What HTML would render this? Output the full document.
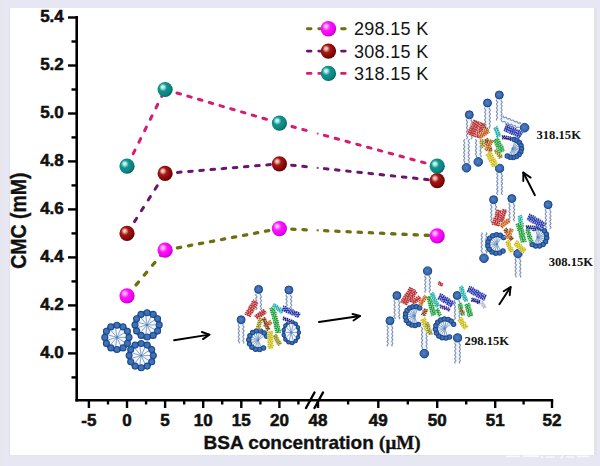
<!DOCTYPE html>
<html><head><meta charset="utf-8">
<style>
html,body{margin:0;padding:0;}
body{width:600px;height:466px;overflow:hidden;background:#e7e7f3;position:relative;}
#panel{position:absolute;left:10px;top:8px;width:584px;height:447px;background:#fff;box-shadow:3px 0 0 #e2e2e9,-1px 0 0 #e1e1ee,0 1px 0 #e3e3ee;}
#lstrip{position:absolute;left:0;top:0;width:2px;height:466px;background:#e6e6ec;}
svg{position:absolute;left:0;top:0;}
.tl{font-family:"Liberation Sans",sans-serif;font-weight:bold;font-size:17px;fill:#111;stroke:#111;stroke-width:0.55px;}
.at{font-family:"Liberation Sans",sans-serif;font-weight:bold;font-size:19px;fill:#111;stroke:#111;stroke-width:0.35px;}
.at.yt{font-size:19.5px;}
.ser{font-family:"Liberation Serif",serif;font-weight:bold;}
.lg{font-family:"Liberation Sans",sans-serif;font-size:18px;fill:#141414;letter-spacing:0.3px;}
.tk{font-family:"Liberation Serif",serif;font-weight:bold;font-size:12.6px;fill:#111;}
</style></head>
<body>
<div id="lstrip"></div><div id="panel"></div>
<svg width="600" height="466" viewBox="0 0 600 466">

<defs>
<radialGradient id="gm" cx="0.4" cy="0.4" r="0.62" fx="0.34" fy="0.33">
 <stop offset="0" stop-color="#ffe0ff"/><stop offset="0.18" stop-color="#ff9cff"/><stop offset="0.42" stop-color="#ff14ff"/><stop offset="0.8" stop-color="#ee00ee"/><stop offset="1" stop-color="#c000c8"/>
</radialGradient>
<radialGradient id="gr" cx="0.4" cy="0.4" r="0.62" fx="0.34" fy="0.33">
 <stop offset="0" stop-color="#fbe6d2"/><stop offset="0.16" stop-color="#eab0a0"/><stop offset="0.4" stop-color="#a41818"/><stop offset="0.8" stop-color="#860606"/><stop offset="1" stop-color="#5a0202"/>
</radialGradient>
<radialGradient id="gt" cx="0.4" cy="0.4" r="0.62" fx="0.34" fy="0.33">
 <stop offset="0" stop-color="#e4fffc"/><stop offset="0.16" stop-color="#a8ece6"/><stop offset="0.42" stop-color="#12928c"/><stop offset="0.8" stop-color="#0c8480"/><stop offset="1" stop-color="#065c60"/>
</radialGradient>
<radialGradient id="gb" cx="0.45" cy="0.45" r="0.6">
 <stop offset="0" stop-color="#4e80c4"/><stop offset="0.6" stop-color="#3a6ab2"/><stop offset="1" stop-color="#2a58a0"/>
</radialGradient>
</defs>

<ellipse cx="116.9" cy="337.4" rx="10.6" ry="10.6" fill="#f4f8fd"/>
<line x1="116.9" y1="337.4" x2="126.0" y2="337.4" stroke="#7898c4" stroke-width="0.9"/>
<line x1="116.9" y1="337.4" x2="124.5" y2="342.3" stroke="#7898c4" stroke-width="0.9"/>
<line x1="116.9" y1="337.4" x2="120.7" y2="345.6" stroke="#7898c4" stroke-width="0.9"/>
<line x1="116.9" y1="337.4" x2="115.6" y2="346.4" stroke="#7898c4" stroke-width="0.9"/>
<line x1="116.9" y1="337.4" x2="111.0" y2="344.2" stroke="#7898c4" stroke-width="0.9"/>
<line x1="116.9" y1="337.4" x2="108.2" y2="339.9" stroke="#7898c4" stroke-width="0.9"/>
<line x1="116.9" y1="337.4" x2="108.2" y2="334.9" stroke="#7898c4" stroke-width="0.9"/>
<line x1="116.9" y1="337.4" x2="111.0" y2="330.6" stroke="#7898c4" stroke-width="0.9"/>
<line x1="116.9" y1="337.4" x2="115.6" y2="328.4" stroke="#7898c4" stroke-width="0.9"/>
<line x1="116.9" y1="337.4" x2="120.7" y2="329.2" stroke="#7898c4" stroke-width="0.9"/>
<line x1="116.9" y1="337.4" x2="124.5" y2="332.5" stroke="#7898c4" stroke-width="0.9"/>
<circle cx="116.9" cy="337.4" r="1.1" fill="#4a78b8"/>
<ellipse cx="116.9" cy="337.4" rx="12.1" ry="12.1" fill="none" stroke="#24508f" stroke-width="4.1"/>
<circle cx="129.0" cy="337.4" r="3.0" fill="#4072b8" stroke="#1e4b8e" stroke-width="1.1"/>
<circle cx="127.4" cy="343.4" r="3.0" fill="#4072b8" stroke="#1e4b8e" stroke-width="1.1"/>
<circle cx="123.0" cy="347.9" r="3.0" fill="#4072b8" stroke="#1e4b8e" stroke-width="1.1"/>
<circle cx="116.9" cy="349.5" r="3.0" fill="#4072b8" stroke="#1e4b8e" stroke-width="1.1"/>
<circle cx="110.9" cy="347.9" r="3.0" fill="#4072b8" stroke="#1e4b8e" stroke-width="1.1"/>
<circle cx="106.4" cy="343.4" r="3.0" fill="#4072b8" stroke="#1e4b8e" stroke-width="1.1"/>
<circle cx="104.8" cy="337.4" r="3.0" fill="#4072b8" stroke="#1e4b8e" stroke-width="1.1"/>
<circle cx="106.4" cy="331.3" r="3.0" fill="#4072b8" stroke="#1e4b8e" stroke-width="1.1"/>
<circle cx="110.8" cy="326.9" r="3.0" fill="#4072b8" stroke="#1e4b8e" stroke-width="1.1"/>
<circle cx="116.9" cy="325.3" r="3.0" fill="#4072b8" stroke="#1e4b8e" stroke-width="1.1"/>
<circle cx="123.0" cy="326.9" r="3.0" fill="#4072b8" stroke="#1e4b8e" stroke-width="1.1"/>
<circle cx="127.4" cy="331.3" r="3.0" fill="#4072b8" stroke="#1e4b8e" stroke-width="1.1"/>
<ellipse cx="147.1" cy="324.9" rx="10.6" ry="10.6" fill="#f4f8fd"/>
<line x1="147.1" y1="324.9" x2="156.2" y2="324.9" stroke="#7898c4" stroke-width="0.9"/>
<line x1="147.1" y1="324.9" x2="154.7" y2="329.8" stroke="#7898c4" stroke-width="0.9"/>
<line x1="147.1" y1="324.9" x2="150.9" y2="333.1" stroke="#7898c4" stroke-width="0.9"/>
<line x1="147.1" y1="324.9" x2="145.8" y2="333.9" stroke="#7898c4" stroke-width="0.9"/>
<line x1="147.1" y1="324.9" x2="141.2" y2="331.7" stroke="#7898c4" stroke-width="0.9"/>
<line x1="147.1" y1="324.9" x2="138.4" y2="327.4" stroke="#7898c4" stroke-width="0.9"/>
<line x1="147.1" y1="324.9" x2="138.4" y2="322.4" stroke="#7898c4" stroke-width="0.9"/>
<line x1="147.1" y1="324.9" x2="141.2" y2="318.1" stroke="#7898c4" stroke-width="0.9"/>
<line x1="147.1" y1="324.9" x2="145.8" y2="315.9" stroke="#7898c4" stroke-width="0.9"/>
<line x1="147.1" y1="324.9" x2="150.9" y2="316.7" stroke="#7898c4" stroke-width="0.9"/>
<line x1="147.1" y1="324.9" x2="154.7" y2="320.0" stroke="#7898c4" stroke-width="0.9"/>
<circle cx="147.1" cy="324.9" r="1.1" fill="#4a78b8"/>
<ellipse cx="147.1" cy="324.9" rx="12.1" ry="12.1" fill="none" stroke="#24508f" stroke-width="4.1"/>
<circle cx="159.2" cy="324.9" r="3.0" fill="#4072b8" stroke="#1e4b8e" stroke-width="1.1"/>
<circle cx="157.6" cy="330.9" r="3.0" fill="#4072b8" stroke="#1e4b8e" stroke-width="1.1"/>
<circle cx="153.2" cy="335.4" r="3.0" fill="#4072b8" stroke="#1e4b8e" stroke-width="1.1"/>
<circle cx="147.1" cy="337.0" r="3.0" fill="#4072b8" stroke="#1e4b8e" stroke-width="1.1"/>
<circle cx="141.1" cy="335.4" r="3.0" fill="#4072b8" stroke="#1e4b8e" stroke-width="1.1"/>
<circle cx="136.6" cy="330.9" r="3.0" fill="#4072b8" stroke="#1e4b8e" stroke-width="1.1"/>
<circle cx="135.0" cy="324.9" r="3.0" fill="#4072b8" stroke="#1e4b8e" stroke-width="1.1"/>
<circle cx="136.6" cy="318.8" r="3.0" fill="#4072b8" stroke="#1e4b8e" stroke-width="1.1"/>
<circle cx="141.0" cy="314.4" r="3.0" fill="#4072b8" stroke="#1e4b8e" stroke-width="1.1"/>
<circle cx="147.1" cy="312.8" r="3.0" fill="#4072b8" stroke="#1e4b8e" stroke-width="1.1"/>
<circle cx="153.2" cy="314.4" r="3.0" fill="#4072b8" stroke="#1e4b8e" stroke-width="1.1"/>
<circle cx="157.6" cy="318.8" r="3.0" fill="#4072b8" stroke="#1e4b8e" stroke-width="1.1"/>
<ellipse cx="141.2" cy="355.6" rx="10.6" ry="10.6" fill="#f4f8fd"/>
<line x1="141.2" y1="355.6" x2="150.2" y2="355.6" stroke="#7898c4" stroke-width="0.9"/>
<line x1="141.2" y1="355.6" x2="148.8" y2="360.5" stroke="#7898c4" stroke-width="0.9"/>
<line x1="141.2" y1="355.6" x2="145.0" y2="363.8" stroke="#7898c4" stroke-width="0.9"/>
<line x1="141.2" y1="355.6" x2="139.9" y2="364.6" stroke="#7898c4" stroke-width="0.9"/>
<line x1="141.2" y1="355.6" x2="135.3" y2="362.4" stroke="#7898c4" stroke-width="0.9"/>
<line x1="141.2" y1="355.6" x2="132.5" y2="358.1" stroke="#7898c4" stroke-width="0.9"/>
<line x1="141.2" y1="355.6" x2="132.5" y2="353.1" stroke="#7898c4" stroke-width="0.9"/>
<line x1="141.2" y1="355.6" x2="135.3" y2="348.8" stroke="#7898c4" stroke-width="0.9"/>
<line x1="141.2" y1="355.6" x2="139.9" y2="346.6" stroke="#7898c4" stroke-width="0.9"/>
<line x1="141.2" y1="355.6" x2="145.0" y2="347.4" stroke="#7898c4" stroke-width="0.9"/>
<line x1="141.2" y1="355.6" x2="148.8" y2="350.7" stroke="#7898c4" stroke-width="0.9"/>
<circle cx="141.2" cy="355.6" r="1.1" fill="#4a78b8"/>
<ellipse cx="141.2" cy="355.6" rx="12.1" ry="12.1" fill="none" stroke="#24508f" stroke-width="4.1"/>
<circle cx="153.3" cy="355.6" r="3.0" fill="#4072b8" stroke="#1e4b8e" stroke-width="1.1"/>
<circle cx="151.7" cy="361.7" r="3.0" fill="#4072b8" stroke="#1e4b8e" stroke-width="1.1"/>
<circle cx="147.2" cy="366.1" r="3.0" fill="#4072b8" stroke="#1e4b8e" stroke-width="1.1"/>
<circle cx="141.2" cy="367.7" r="3.0" fill="#4072b8" stroke="#1e4b8e" stroke-width="1.1"/>
<circle cx="135.1" cy="366.1" r="3.0" fill="#4072b8" stroke="#1e4b8e" stroke-width="1.1"/>
<circle cx="130.7" cy="361.7" r="3.0" fill="#4072b8" stroke="#1e4b8e" stroke-width="1.1"/>
<circle cx="129.1" cy="355.6" r="3.0" fill="#4072b8" stroke="#1e4b8e" stroke-width="1.1"/>
<circle cx="130.7" cy="349.6" r="3.0" fill="#4072b8" stroke="#1e4b8e" stroke-width="1.1"/>
<circle cx="135.1" cy="345.1" r="3.0" fill="#4072b8" stroke="#1e4b8e" stroke-width="1.1"/>
<circle cx="141.2" cy="343.5" r="3.0" fill="#4072b8" stroke="#1e4b8e" stroke-width="1.1"/>
<circle cx="147.2" cy="345.1" r="3.0" fill="#4072b8" stroke="#1e4b8e" stroke-width="1.1"/>
<circle cx="151.7" cy="349.6" r="3.0" fill="#4072b8" stroke="#1e4b8e" stroke-width="1.1"/>
<line x1="174.1" y1="340.3" x2="209.4" y2="334.6" stroke="#000" stroke-width="1.9" stroke-linecap="round"/><polyline points="201.9,332 209.4,334.6 203,339.1" fill="none" stroke="#000" stroke-width="1.9" stroke-linecap="round" stroke-linejoin="round"/>
<line x1="258.6" y1="293.9" x2="258.6" y2="308.9" stroke="#f1f6fc" stroke-width="3.2"/>
<polyline points="260.9,293.9 260.3,294.7 260.6,295.5 261.3,296.3 261.4,297.1 260.7,297.9 260.3,298.7 260.8,299.5 261.4,300.3 261.3,301.1 260.5,301.9 260.4,302.7 261.0,303.5 261.5,304.3 261.1,305.1 260.4,305.9 260.5,306.7 261.2,307.5 261.5,308.3 260.9,309.1 260.3,309.9" fill="none" stroke="#7d8fb2" stroke-width="1.1"/>
<polyline points="256.3,293.9 255.7,294.7 256.0,295.5 256.7,296.3 256.8,297.1 256.1,297.9 255.7,298.7 256.2,299.5 256.8,300.3 256.7,301.1 255.9,301.9 255.8,302.7 256.4,303.5 256.9,304.3 256.5,305.1 255.8,305.9 255.9,306.7 256.6,307.5 256.9,308.3 256.3,309.1 255.7,309.9" fill="none" stroke="#7d8fb2" stroke-width="1.1"/>
<circle cx="258.6" cy="289.4" r="4" fill="url(#gb)" stroke="#1c4788" stroke-width="1.0"/>
<line x1="288.9" y1="294.5" x2="288.9" y2="311.5" stroke="#f1f6fc" stroke-width="3.2"/>
<polyline points="291.2,294.5 290.6,295.3 290.9,296.1 291.7,297.0 291.7,297.8 290.9,298.6 290.6,299.4 291.2,300.2 291.8,301.0 291.4,301.9 290.7,302.7 290.8,303.5 291.5,304.3 291.8,305.1 291.1,306.0 290.6,306.8 291.0,307.6 291.7,308.4 291.6,309.2 290.9,310.0 290.6,310.9 291.3,311.7 291.8,312.5" fill="none" stroke="#7d8fb2" stroke-width="1.1"/>
<polyline points="286.6,294.5 286.0,295.3 286.3,296.1 287.1,297.0 287.1,297.8 286.3,298.6 286.0,299.4 286.6,300.2 287.2,301.0 286.8,301.9 286.1,302.7 286.2,303.5 286.9,304.3 287.2,305.1 286.5,306.0 286.0,306.8 286.4,307.6 287.1,308.4 287.0,309.2 286.3,310.0 286.0,310.9 286.7,311.7 287.2,312.5" fill="none" stroke="#7d8fb2" stroke-width="1.1"/>
<circle cx="288.9" cy="290.0" r="4" fill="url(#gb)" stroke="#1c4788" stroke-width="1.0"/>
<line x1="241.1" y1="324.3" x2="241.1" y2="342.3" stroke="#f1f6fc" stroke-width="3.2"/>
<polyline points="243.4,324.3 242.8,325.1 243.2,326.0 243.9,326.8 243.8,327.6 243.1,328.4 242.8,329.3 243.5,330.1 244.0,330.9 243.6,331.7 242.9,332.6 243.0,333.4 243.8,334.2 243.9,335.0 243.2,335.9 242.8,336.7 243.3,337.5 244.0,338.3 243.7,339.2 243.0,340.0 242.9,340.8 243.6,341.6 244.0,342.5 243.4,343.3" fill="none" stroke="#7d8fb2" stroke-width="1.1"/>
<polyline points="238.8,324.3 238.2,325.1 238.6,326.0 239.3,326.8 239.2,327.6 238.5,328.4 238.2,329.3 238.9,330.1 239.4,330.9 239.0,331.7 238.3,332.6 238.4,333.4 239.2,334.2 239.3,335.0 238.6,335.9 238.2,336.7 238.7,337.5 239.4,338.3 239.1,339.2 238.4,340.0 238.3,340.8 239.0,341.6 239.4,342.5 238.8,343.3" fill="none" stroke="#7d8fb2" stroke-width="1.1"/>
<circle cx="241.1" cy="319.8" r="4" fill="url(#gb)" stroke="#1c4788" stroke-width="1.0"/>
<ellipse cx="258.2" cy="340.2" rx="7.9" ry="7.9" fill="#f4f8fd"/>
<line x1="258.2" y1="340.2" x2="260.9" y2="346.8" stroke="#7898c4" stroke-width="0.9"/>
<line x1="258.2" y1="340.2" x2="258.1" y2="347.3" stroke="#7898c4" stroke-width="0.9"/>
<line x1="258.2" y1="340.2" x2="255.3" y2="346.7" stroke="#7898c4" stroke-width="0.9"/>
<line x1="258.2" y1="340.2" x2="253.0" y2="345.0" stroke="#7898c4" stroke-width="0.9"/>
<line x1="258.2" y1="340.2" x2="251.5" y2="342.6" stroke="#7898c4" stroke-width="0.9"/>
<line x1="258.2" y1="340.2" x2="251.1" y2="339.7" stroke="#7898c4" stroke-width="0.9"/>
<line x1="258.2" y1="340.2" x2="251.9" y2="337.0" stroke="#7898c4" stroke-width="0.9"/>
<line x1="258.2" y1="340.2" x2="253.7" y2="334.7" stroke="#7898c4" stroke-width="0.9"/>
<line x1="258.2" y1="340.2" x2="256.2" y2="333.4" stroke="#7898c4" stroke-width="0.9"/>
<line x1="258.2" y1="340.2" x2="259.0" y2="333.2" stroke="#7898c4" stroke-width="0.9"/>
<line x1="258.2" y1="340.2" x2="261.8" y2="334.1" stroke="#7898c4" stroke-width="0.9"/>
<line x1="258.2" y1="340.2" x2="263.9" y2="336.0" stroke="#7898c4" stroke-width="0.9"/>
<circle cx="258.2" cy="340.2" r="1.1" fill="#4a78b8"/>
<path d="M263.5,348.0 A9.4,9.4 0 1 1 266.7,336.2" fill="none" stroke="#24508f" stroke-width="3.2"/>
<circle cx="263.5" cy="348.0" r="2.2" fill="#4072b8" stroke="#1e4b8e" stroke-width="1.1"/>
<circle cx="259.6" cy="349.5" r="2.2" fill="#4072b8" stroke="#1e4b8e" stroke-width="1.1"/>
<circle cx="255.5" cy="349.2" r="2.2" fill="#4072b8" stroke="#1e4b8e" stroke-width="1.1"/>
<circle cx="251.9" cy="347.2" r="2.2" fill="#4072b8" stroke="#1e4b8e" stroke-width="1.1"/>
<circle cx="249.5" cy="343.8" r="2.2" fill="#4072b8" stroke="#1e4b8e" stroke-width="1.1"/>
<circle cx="248.8" cy="339.7" r="2.2" fill="#4072b8" stroke="#1e4b8e" stroke-width="1.1"/>
<circle cx="249.9" cy="335.8" r="2.2" fill="#4072b8" stroke="#1e4b8e" stroke-width="1.1"/>
<circle cx="252.6" cy="332.6" r="2.2" fill="#4072b8" stroke="#1e4b8e" stroke-width="1.1"/>
<circle cx="256.4" cy="331.0" r="2.2" fill="#4072b8" stroke="#1e4b8e" stroke-width="1.1"/>
<circle cx="260.5" cy="331.1" r="2.2" fill="#4072b8" stroke="#1e4b8e" stroke-width="1.1"/>
<circle cx="264.2" cy="333.0" r="2.2" fill="#4072b8" stroke="#1e4b8e" stroke-width="1.1"/>
<circle cx="266.7" cy="336.2" r="2.2" fill="#4072b8" stroke="#1e4b8e" stroke-width="1.1"/>
<ellipse cx="291.2" cy="332.4" rx="6.2" ry="9.1" fill="#f4f8fd"/>
<line x1="291.2" y1="332.4" x2="297.1" y2="332.4" stroke="#7898c4" stroke-width="0.9"/>
<line x1="291.2" y1="332.4" x2="296.0" y2="337.2" stroke="#7898c4" stroke-width="0.9"/>
<line x1="291.2" y1="332.4" x2="293.0" y2="340.1" stroke="#7898c4" stroke-width="0.9"/>
<line x1="291.2" y1="332.4" x2="289.4" y2="340.1" stroke="#7898c4" stroke-width="0.9"/>
<line x1="291.2" y1="332.4" x2="286.4" y2="337.2" stroke="#7898c4" stroke-width="0.9"/>
<line x1="291.2" y1="332.4" x2="285.3" y2="332.4" stroke="#7898c4" stroke-width="0.9"/>
<line x1="291.2" y1="332.4" x2="286.4" y2="327.6" stroke="#7898c4" stroke-width="0.9"/>
<line x1="291.2" y1="332.4" x2="289.4" y2="324.7" stroke="#7898c4" stroke-width="0.9"/>
<line x1="291.2" y1="332.4" x2="293.0" y2="324.7" stroke="#7898c4" stroke-width="0.9"/>
<line x1="291.2" y1="332.4" x2="296.0" y2="327.6" stroke="#7898c4" stroke-width="0.9"/>
<circle cx="291.2" cy="332.4" r="1.1" fill="#4a78b8"/>
<ellipse cx="291.2" cy="332.4" rx="7.7" ry="10.6" fill="none" stroke="#24508f" stroke-width="2.6"/>
<circle cx="298.9" cy="332.4" r="1.7" fill="#4072b8" stroke="#1e4b8e" stroke-width="1.1"/>
<circle cx="298.0" cy="337.3" r="1.7" fill="#4072b8" stroke="#1e4b8e" stroke-width="1.1"/>
<circle cx="295.6" cy="341.1" r="1.7" fill="#4072b8" stroke="#1e4b8e" stroke-width="1.1"/>
<circle cx="292.1" cy="342.9" r="1.7" fill="#4072b8" stroke="#1e4b8e" stroke-width="1.1"/>
<circle cx="288.5" cy="342.3" r="1.7" fill="#4072b8" stroke="#1e4b8e" stroke-width="1.1"/>
<circle cx="285.4" cy="339.4" r="1.7" fill="#4072b8" stroke="#1e4b8e" stroke-width="1.1"/>
<circle cx="283.7" cy="334.9" r="1.7" fill="#4072b8" stroke="#1e4b8e" stroke-width="1.1"/>
<circle cx="283.7" cy="329.9" r="1.7" fill="#4072b8" stroke="#1e4b8e" stroke-width="1.1"/>
<circle cx="285.4" cy="325.4" r="1.7" fill="#4072b8" stroke="#1e4b8e" stroke-width="1.1"/>
<circle cx="288.5" cy="322.5" r="1.7" fill="#4072b8" stroke="#1e4b8e" stroke-width="1.1"/>
<circle cx="292.1" cy="321.9" r="1.7" fill="#4072b8" stroke="#1e4b8e" stroke-width="1.1"/>
<circle cx="295.6" cy="323.7" r="1.7" fill="#4072b8" stroke="#1e4b8e" stroke-width="1.1"/>
<circle cx="298.0" cy="327.5" r="1.7" fill="#4072b8" stroke="#1e4b8e" stroke-width="1.1"/>
<line x1="247.3" y1="315.7" x2="255.9" y2="301.2" stroke="#f2bcbc" stroke-width="6.8"/>
<polyline points="244.7,314.2 250.4,316.3 245.8,312.4 251.5,314.5 246.9,310.5 252.6,312.7 247.9,308.7 253.6,310.9 249.0,306.9 254.7,309.1 250.1,305.1 255.8,307.3 251.2,303.3 256.9,305.4 252.2,301.5 257.9,303.6 253.3,299.7" fill="none" stroke="#b0282e" stroke-width="1.2" stroke-linejoin="round" stroke-dasharray="1.6 0.7"/>
<line x1="255.9" y1="317.5" x2="265.3" y2="311.0" stroke="#f2bcbc" stroke-width="5.3"/>
<polyline points="254.6,315.6 258.0,318.8 256.3,314.5 259.7,317.6 258.0,313.3 261.5,316.4 259.7,312.1 263.2,315.2 261.5,310.9 264.9,314.0 263.2,309.7 266.6,312.9" fill="none" stroke="#b0282e" stroke-width="1.2" stroke-linejoin="round" stroke-dasharray="1.6 0.7"/>
<line x1="258.0" y1="329.0" x2="261.0" y2="318.0" stroke="#e8e4a8" stroke-width="4.8"/>
<polyline points="256.1,328.5 260.2,328.5 256.6,326.5 260.7,326.5 257.2,324.5 261.3,324.5 257.7,322.5 261.8,322.5 258.3,320.5 262.4,320.5 258.8,318.5 262.9,318.5" fill="none" stroke="#8e8a22" stroke-width="1.2" stroke-linejoin="round" stroke-dasharray="1.6 0.7"/>
<line x1="264.8" y1="326.8" x2="271.2" y2="321.5" stroke="#f6d0a8" stroke-width="4.8"/>
<polyline points="263.5,325.3 266.9,327.7 265.1,323.9 268.5,326.4 266.7,322.6 270.1,325.0 268.3,321.3 271.7,323.7 269.9,320.0" fill="none" stroke="#c05a1c" stroke-width="1.2" stroke-linejoin="round" stroke-dasharray="1.6 0.7"/>
<line x1="263.5" y1="318.0" x2="268.5" y2="330.0" stroke="#e8c8a8" stroke-width="4.3"/>
<polyline points="265.1,317.3 262.3,319.6 265.9,319.2 263.0,321.4 266.7,321.0 263.8,323.3 267.4,322.9 264.6,325.1 268.2,324.7 265.3,327.0 269.0,326.6 266.1,328.8 269.7,328.4 266.9,330.7" fill="none" stroke="#7a3a16" stroke-width="1.2" stroke-linejoin="round" stroke-dasharray="1.6 0.7"/>
<line x1="270.0" y1="331.3" x2="270.8" y2="348.6" stroke="#f6f0a0" stroke-width="5.8"/>
<polyline points="272.5,331.2 267.5,332.4 272.6,333.2 267.6,334.5 272.7,335.3 267.7,336.5 272.8,337.3 267.8,338.5 272.9,339.3 267.9,340.6 273.0,341.4 268.0,342.6 273.1,343.4 268.1,344.6 273.2,345.4 268.2,346.7 273.3,347.5 268.3,348.7" fill="none" stroke="#c8b81c" stroke-width="1.2" stroke-linejoin="round" stroke-dasharray="1.6 0.7"/>
<line x1="274.5" y1="335.0" x2="279.8" y2="344.8" stroke="#e8e4a8" stroke-width="4.8"/>
<polyline points="276.3,334.0 273.2,336.8 277.2,335.8 274.2,338.6 278.2,337.6 275.1,340.4 279.2,339.4 276.1,342.2 280.1,341.2 277.1,344.0 281.1,343.0 278.0,345.8" fill="none" stroke="#8e8a22" stroke-width="1.2" stroke-linejoin="round" stroke-dasharray="1.6 0.7"/>
<line x1="272.2" y1="307.2" x2="278.5" y2="332.9" stroke="#b8ecc0" stroke-width="5.8"/>
<polyline points="274.6,306.6 270.0,308.8 275.1,308.6 270.5,310.8 275.6,310.6 271.0,312.7 276.1,312.5 271.5,314.7 276.6,314.5 272.0,316.7 277.1,316.5 272.4,318.7 277.5,318.5 272.9,320.6 278.0,320.4 273.4,322.6 278.5,322.4 273.9,324.6 279.0,324.4 274.4,326.6 279.5,326.4 274.9,328.6 280.0,328.4 275.3,330.5 280.4,330.3 275.8,332.5 280.9,332.3" fill="none" stroke="#1e9a3a" stroke-width="1.2" stroke-linejoin="round" stroke-dasharray="1.6 0.7"/>
<line x1="273.0" y1="305.0" x2="283.0" y2="312.0" stroke="#bff2f0" stroke-width="4.8"/>
<polyline points="274.1,303.4 272.7,307.2 275.8,304.5 274.4,308.4 277.5,305.7 276.0,309.6 279.1,306.9 277.7,310.7 280.8,308.0 279.4,311.9 282.5,309.2 281.0,313.1 284.1,310.4" fill="none" stroke="#22aaa8" stroke-width="1.2" stroke-linejoin="round" stroke-dasharray="1.6 0.7"/>
<line x1="282.7" y1="307.9" x2="299.5" y2="315.6" stroke="#c4caf2" stroke-width="5.8"/>
<polyline points="283.7,305.6 282.6,310.6 285.6,306.5 284.5,311.5 287.5,307.3 286.3,312.3 289.3,308.2 288.2,313.2 291.2,309.0 290.1,314.0 293.1,309.9 291.9,314.9 294.9,310.8 293.8,315.7 296.8,311.6 295.7,316.6 298.7,312.5 297.5,317.4 300.5,313.3" fill="none" stroke="#2232a8" stroke-width="1.2" stroke-linejoin="round" stroke-dasharray="1.6 0.7"/>
<line x1="283.0" y1="318.0" x2="292.0" y2="322.0" stroke="#c0c4e8" stroke-width="3.8"/>
<polyline points="283.6,316.6 283.4,319.8 285.6,317.5 285.4,320.7 287.6,318.4 287.4,321.6 289.6,319.3 289.4,322.5 291.6,320.2 291.4,323.4" fill="none" stroke="#18207a" stroke-width="1.2" stroke-linejoin="round" stroke-dasharray="1.6 0.7"/>
<line x1="319" y1="322" x2="360" y2="316" stroke="#000" stroke-width="1.9" stroke-linecap="round"/><polyline points="352.5,314 360,316 353.5,320.5" fill="none" stroke="#000" stroke-width="1.9" stroke-linecap="round" stroke-linejoin="round"/>
<line x1="427.6" y1="275.6" x2="427.6" y2="291.6" stroke="#f1f6fc" stroke-width="3.2"/>
<polyline points="429.9,275.6 429.3,276.4 429.6,277.2 430.4,278.0 430.4,278.8 429.7,279.6 429.3,280.5 429.9,281.3 430.5,282.1 430.2,282.9 429.5,283.7 429.4,284.5 430.1,285.3 430.5,286.1 430.0,286.9 429.3,287.7 429.6,288.6 430.3,289.4 430.4,290.2 429.7,291.0 429.3,291.8 429.8,292.6" fill="none" stroke="#7d8fb2" stroke-width="1.1"/>
<polyline points="425.3,275.6 424.7,276.4 425.0,277.2 425.8,278.0 425.8,278.8 425.1,279.6 424.7,280.5 425.3,281.3 425.9,282.1 425.6,282.9 424.9,283.7 424.8,284.5 425.5,285.3 425.9,286.1 425.4,286.9 424.7,287.7 425.0,288.6 425.7,289.4 425.8,290.2 425.1,291.0 424.7,291.8 425.2,292.6" fill="none" stroke="#7d8fb2" stroke-width="1.1"/>
<circle cx="427.6" cy="271.0" r="4.1" fill="url(#gb)" stroke="#1c4788" stroke-width="1.0"/>
<line x1="396.9" y1="300.1" x2="396.9" y2="318.1" stroke="#f1f6fc" stroke-width="3.2"/>
<polyline points="399.2,300.1 398.6,300.9 399.0,301.8 399.7,302.6 399.6,303.4 398.9,304.2 398.6,305.1 399.3,305.9 399.8,306.7 399.4,307.5 398.7,308.4 398.8,309.2 399.6,310.0 399.7,310.8 399.0,311.7 398.6,312.5 399.1,313.3 399.8,314.1 399.5,315.0 398.8,315.8 398.7,316.6 399.4,317.4 399.8,318.3 399.2,319.1" fill="none" stroke="#7d8fb2" stroke-width="1.1"/>
<polyline points="394.6,300.1 394.0,300.9 394.4,301.8 395.1,302.6 395.0,303.4 394.3,304.2 394.0,305.1 394.7,305.9 395.2,306.7 394.8,307.5 394.1,308.4 394.2,309.2 395.0,310.0 395.1,310.8 394.4,311.7 394.0,312.5 394.5,313.3 395.2,314.1 394.9,315.0 394.2,315.8 394.1,316.6 394.8,317.4 395.2,318.3 394.6,319.1" fill="none" stroke="#7d8fb2" stroke-width="1.1"/>
<circle cx="396.9" cy="295.6" r="4" fill="url(#gb)" stroke="#1c4788" stroke-width="1.0"/>
<line x1="390.0" y1="325.3" x2="390.0" y2="345.3" stroke="#f1f6fc" stroke-width="3.2"/>
<polyline points="392.3,325.3 391.7,326.1 392.0,326.9 392.8,327.7 392.8,328.5 392.1,329.3 391.7,330.1 392.3,331.0 392.9,331.8 392.6,332.6 391.9,333.4 391.8,334.2 392.5,335.0 392.9,335.8 392.4,336.6 391.7,337.4 391.9,338.2 392.7,339.0 392.8,339.8 392.2,340.6 391.7,341.5 392.2,342.3 392.8,343.1 392.7,343.9 391.9,344.7 391.7,345.5 392.4,346.3" fill="none" stroke="#7d8fb2" stroke-width="1.1"/>
<polyline points="387.7,325.3 387.1,326.1 387.4,326.9 388.2,327.7 388.2,328.5 387.5,329.3 387.1,330.1 387.7,331.0 388.3,331.8 388.0,332.6 387.3,333.4 387.2,334.2 387.9,335.0 388.3,335.8 387.8,336.6 387.1,337.4 387.3,338.2 388.1,339.0 388.2,339.8 387.6,340.6 387.1,341.5 387.6,342.3 388.2,343.1 388.1,343.9 387.3,344.7 387.1,345.5 387.8,346.3" fill="none" stroke="#7d8fb2" stroke-width="1.1"/>
<circle cx="390.0" cy="320.8" r="4" fill="url(#gb)" stroke="#1c4788" stroke-width="1.0"/>
<line x1="457.2" y1="300.0" x2="457.2" y2="319.0" stroke="#f1f6fc" stroke-width="3.2"/>
<polyline points="459.5,300.0 458.9,300.8 459.2,301.6 459.9,302.4 460.0,303.2 459.3,304.0 458.9,304.8 459.4,305.6 460.0,306.4 459.9,307.2 459.1,308.0 459.0,308.8 459.6,309.6 460.1,310.4 459.7,311.2 459.0,312.0 459.1,312.8 459.8,313.6 460.1,314.4 459.5,315.2 458.9,316.0 459.2,316.8 459.9,317.6 460.0,318.4 459.3,319.2 458.9,320.0" fill="none" stroke="#7d8fb2" stroke-width="1.1"/>
<polyline points="454.9,300.0 454.3,300.8 454.6,301.6 455.3,302.4 455.4,303.2 454.7,304.0 454.3,304.8 454.8,305.6 455.4,306.4 455.3,307.2 454.5,308.0 454.4,308.8 455.0,309.6 455.5,310.4 455.1,311.2 454.4,312.0 454.5,312.8 455.2,313.6 455.5,314.4 454.9,315.2 454.3,316.0 454.6,316.8 455.3,317.6 455.4,318.4 454.7,319.2 454.3,320.0" fill="none" stroke="#7d8fb2" stroke-width="1.1"/>
<circle cx="457.2" cy="295.5" r="4" fill="url(#gb)" stroke="#1c4788" stroke-width="1.0"/>
<line x1="457.6" y1="342.5" x2="457.6" y2="362.5" stroke="#f1f6fc" stroke-width="3.2"/>
<polyline points="459.9,342.5 459.3,343.3 459.6,344.1 460.4,344.9 460.4,345.7 459.7,346.5 459.3,347.3 459.9,348.2 460.5,349.0 460.2,349.8 459.5,350.6 459.4,351.4 460.1,352.2 460.5,353.0 460.0,353.8 459.3,354.6 459.5,355.4 460.3,356.2 460.4,357.0 459.8,357.8 459.3,358.7 459.8,359.5 460.4,360.3 460.3,361.1 459.5,361.9 459.3,362.7 460.0,363.5" fill="none" stroke="#7d8fb2" stroke-width="1.1"/>
<polyline points="455.3,342.5 454.7,343.3 455.0,344.1 455.8,344.9 455.8,345.7 455.1,346.5 454.7,347.3 455.3,348.2 455.9,349.0 455.6,349.8 454.9,350.6 454.8,351.4 455.5,352.2 455.9,353.0 455.4,353.8 454.7,354.6 454.9,355.4 455.7,356.2 455.8,357.0 455.2,357.8 454.7,358.7 455.2,359.5 455.8,360.3 455.7,361.1 454.9,361.9 454.7,362.7 455.4,363.5" fill="none" stroke="#7d8fb2" stroke-width="1.1"/>
<circle cx="457.6" cy="337.9" r="4.1" fill="url(#gb)" stroke="#1c4788" stroke-width="1.0"/>
<line x1="424.3" y1="348.8" x2="424.3" y2="327.8" stroke="#f1f6fc" stroke-width="3.2"/>
<polyline points="422.0,348.8 422.6,348.0 422.3,347.2 421.5,346.4 421.5,345.5 422.3,344.7 422.6,343.9 422.0,343.1 421.4,342.3 421.7,341.5 422.5,340.7 422.5,339.8 421.7,339.0 421.4,338.2 422.0,337.4 422.6,336.6 422.3,335.8 421.5,334.9 421.5,334.1 422.3,333.3 422.6,332.5 422.0,331.7 421.4,330.9 421.8,330.1 422.5,329.2 422.5,328.4 421.7,327.6 421.4,326.8" fill="none" stroke="#7d8fb2" stroke-width="1.1"/>
<polyline points="426.6,348.8 427.2,348.0 426.9,347.2 426.1,346.4 426.1,345.5 426.9,344.7 427.2,343.9 426.6,343.1 426.0,342.3 426.3,341.5 427.1,340.7 427.1,339.8 426.3,339.0 426.0,338.2 426.6,337.4 427.2,336.6 426.9,335.8 426.1,334.9 426.1,334.1 426.9,333.3 427.2,332.5 426.6,331.7 426.0,330.9 426.4,330.1 427.1,329.2 427.1,328.4 426.3,327.6 426.0,326.8" fill="none" stroke="#7d8fb2" stroke-width="1.1"/>
<circle cx="424.3" cy="353.6" r="4.3" fill="url(#gb)" stroke="#1c4788" stroke-width="1.0"/>
<ellipse cx="414.7" cy="316.0" rx="7.9" ry="7.9" fill="#f4f8fd"/>
<line x1="414.7" y1="316.0" x2="416.4" y2="322.8" stroke="#7898c4" stroke-width="0.9"/>
<line x1="414.7" y1="316.0" x2="414.0" y2="323.0" stroke="#7898c4" stroke-width="0.9"/>
<line x1="414.7" y1="316.0" x2="411.7" y2="322.4" stroke="#7898c4" stroke-width="0.9"/>
<line x1="414.7" y1="316.0" x2="409.7" y2="321.0" stroke="#7898c4" stroke-width="0.9"/>
<line x1="414.7" y1="316.0" x2="408.3" y2="319.0" stroke="#7898c4" stroke-width="0.9"/>
<line x1="414.7" y1="316.0" x2="407.7" y2="316.7" stroke="#7898c4" stroke-width="0.9"/>
<line x1="414.7" y1="316.0" x2="407.9" y2="314.3" stroke="#7898c4" stroke-width="0.9"/>
<line x1="414.7" y1="316.0" x2="408.8" y2="312.1" stroke="#7898c4" stroke-width="0.9"/>
<line x1="414.7" y1="316.0" x2="410.5" y2="310.4" stroke="#7898c4" stroke-width="0.9"/>
<line x1="414.7" y1="316.0" x2="412.6" y2="309.3" stroke="#7898c4" stroke-width="0.9"/>
<line x1="414.7" y1="316.0" x2="415.0" y2="309.0" stroke="#7898c4" stroke-width="0.9"/>
<line x1="414.7" y1="316.0" x2="417.4" y2="309.5" stroke="#7898c4" stroke-width="0.9"/>
<circle cx="414.7" cy="316.0" r="1.1" fill="#4a78b8"/>
<path d="M418.5,324.6 A9.4,9.4 0 1 1 419.7,308.0" fill="none" stroke="#24508f" stroke-width="3.3"/>
<circle cx="418.5" cy="324.6" r="2.2" fill="#4072b8" stroke="#1e4b8e" stroke-width="1.1"/>
<circle cx="415.1" cy="325.4" r="2.2" fill="#4072b8" stroke="#1e4b8e" stroke-width="1.1"/>
<circle cx="411.7" cy="324.9" r="2.2" fill="#4072b8" stroke="#1e4b8e" stroke-width="1.1"/>
<circle cx="408.6" cy="323.2" r="2.2" fill="#4072b8" stroke="#1e4b8e" stroke-width="1.1"/>
<circle cx="406.4" cy="320.4" r="2.2" fill="#4072b8" stroke="#1e4b8e" stroke-width="1.1"/>
<circle cx="405.4" cy="317.1" r="2.2" fill="#4072b8" stroke="#1e4b8e" stroke-width="1.1"/>
<circle cx="405.6" cy="313.6" r="2.2" fill="#4072b8" stroke="#1e4b8e" stroke-width="1.1"/>
<circle cx="407.1" cy="310.5" r="2.2" fill="#4072b8" stroke="#1e4b8e" stroke-width="1.1"/>
<circle cx="409.7" cy="308.1" r="2.2" fill="#4072b8" stroke="#1e4b8e" stroke-width="1.1"/>
<circle cx="412.9" cy="306.8" r="2.2" fill="#4072b8" stroke="#1e4b8e" stroke-width="1.1"/>
<circle cx="416.4" cy="306.8" r="2.2" fill="#4072b8" stroke="#1e4b8e" stroke-width="1.1"/>
<circle cx="419.7" cy="308.0" r="2.2" fill="#4072b8" stroke="#1e4b8e" stroke-width="1.1"/>
<ellipse cx="445.0" cy="328.5" rx="8.1" ry="8.1" fill="#f4f8fd"/>
<line x1="445.0" y1="328.5" x2="447.1" y2="335.4" stroke="#7898c4" stroke-width="0.9"/>
<line x1="445.0" y1="328.5" x2="444.2" y2="335.7" stroke="#7898c4" stroke-width="0.9"/>
<line x1="445.0" y1="328.5" x2="441.5" y2="334.9" stroke="#7898c4" stroke-width="0.9"/>
<line x1="445.0" y1="328.5" x2="439.3" y2="333.0" stroke="#7898c4" stroke-width="0.9"/>
<line x1="445.0" y1="328.5" x2="438.0" y2="330.5" stroke="#7898c4" stroke-width="0.9"/>
<line x1="445.0" y1="328.5" x2="437.8" y2="327.7" stroke="#7898c4" stroke-width="0.9"/>
<line x1="445.0" y1="328.5" x2="438.7" y2="324.9" stroke="#7898c4" stroke-width="0.9"/>
<line x1="445.0" y1="328.5" x2="440.5" y2="322.8" stroke="#7898c4" stroke-width="0.9"/>
<line x1="445.0" y1="328.5" x2="443.1" y2="321.5" stroke="#7898c4" stroke-width="0.9"/>
<line x1="445.0" y1="328.5" x2="445.9" y2="321.3" stroke="#7898c4" stroke-width="0.9"/>
<line x1="445.0" y1="328.5" x2="448.6" y2="322.2" stroke="#7898c4" stroke-width="0.9"/>
<line x1="445.0" y1="328.5" x2="450.8" y2="324.1" stroke="#7898c4" stroke-width="0.9"/>
<circle cx="445.0" cy="328.5" r="1.1" fill="#4a78b8"/>
<path d="M449.5,337.0 A9.6,9.6 0 1 1 453.6,324.3" fill="none" stroke="#24508f" stroke-width="3.3"/>
<circle cx="449.5" cy="337.0" r="2.2" fill="#4072b8" stroke="#1e4b8e" stroke-width="1.1"/>
<circle cx="445.9" cy="338.1" r="2.2" fill="#4072b8" stroke="#1e4b8e" stroke-width="1.1"/>
<circle cx="442.1" cy="337.7" r="2.2" fill="#4072b8" stroke="#1e4b8e" stroke-width="1.1"/>
<circle cx="438.8" cy="335.9" r="2.2" fill="#4072b8" stroke="#1e4b8e" stroke-width="1.1"/>
<circle cx="436.5" cy="332.9" r="2.2" fill="#4072b8" stroke="#1e4b8e" stroke-width="1.1"/>
<circle cx="435.4" cy="329.3" r="2.2" fill="#4072b8" stroke="#1e4b8e" stroke-width="1.1"/>
<circle cx="435.9" cy="325.5" r="2.2" fill="#4072b8" stroke="#1e4b8e" stroke-width="1.1"/>
<circle cx="437.7" cy="322.2" r="2.2" fill="#4072b8" stroke="#1e4b8e" stroke-width="1.1"/>
<circle cx="440.7" cy="319.9" r="2.2" fill="#4072b8" stroke="#1e4b8e" stroke-width="1.1"/>
<circle cx="444.3" cy="318.9" r="2.2" fill="#4072b8" stroke="#1e4b8e" stroke-width="1.1"/>
<circle cx="448.1" cy="319.4" r="2.2" fill="#4072b8" stroke="#1e4b8e" stroke-width="1.1"/>
<circle cx="451.3" cy="321.3" r="2.2" fill="#4072b8" stroke="#1e4b8e" stroke-width="1.1"/>
<circle cx="453.6" cy="324.3" r="2.2" fill="#4072b8" stroke="#1e4b8e" stroke-width="1.1"/>
<line x1="403.4" y1="303.6" x2="413.0" y2="288.6" stroke="#f2bcbc" stroke-width="7.8"/>
<polyline points="400.5,301.7 406.9,304.6 401.6,299.9 408.0,302.8 402.7,298.2 409.2,301.1 403.8,296.4 410.3,299.3 405.0,294.7 411.4,297.5 406.1,292.9 412.6,295.8 407.2,291.1 413.7,294.0 408.4,289.4 414.8,292.3 409.5,287.6 415.9,290.5" fill="none" stroke="#b0282e" stroke-width="1.2" stroke-linejoin="round" stroke-dasharray="1.6 0.7"/>
<line x1="409.5" y1="301.5" x2="415.5" y2="291.0" stroke="#f2bcbc" stroke-width="4.8"/>
<polyline points="407.8,300.5 411.7,301.6 408.8,298.8 412.7,299.9 409.8,297.0 413.7,298.1 410.8,295.3 414.7,296.4 411.8,293.5 415.7,294.6 412.8,291.8 416.7,292.9 413.8,290.0" fill="none" stroke="#b0282e" stroke-width="1.2" stroke-linejoin="round" stroke-dasharray="1.6 0.7"/>
<line x1="412.0" y1="302.5" x2="420.5" y2="297.5" stroke="#f2bcbc" stroke-width="5.3"/>
<polyline points="410.9,300.6 414.1,303.9 412.7,299.4 416.0,302.8 414.6,298.3 417.9,301.7 416.5,297.2 419.8,300.6 418.4,296.1 421.6,299.4" fill="none" stroke="#b0282e" stroke-width="1.2" stroke-linejoin="round" stroke-dasharray="1.6 0.7"/>
<line x1="438.5" y1="282.5" x2="442.5" y2="285.5" stroke="#f2bcbc" stroke-width="3.8"/>
<polyline points="439.4,281.3 438.4,284.3 441.0,282.5 440.0,285.5 442.6,283.7 441.6,286.7" fill="none" stroke="#b0282e" stroke-width="1.2" stroke-linejoin="round" stroke-dasharray="1.6 0.7"/>
<line x1="420.0" y1="305.0" x2="426.0" y2="296.0" stroke="#f6d0a8" stroke-width="4.3"/>
<polyline points="418.5,304.0 422.1,305.1 419.7,302.2 423.3,303.3 420.9,300.4 424.5,301.5 422.1,298.6 425.7,299.7 423.3,296.8 426.9,297.9 424.5,295.0" fill="none" stroke="#c05a1c" stroke-width="1.2" stroke-linejoin="round" stroke-dasharray="1.6 0.7"/>
<line x1="426.0" y1="309.0" x2="422.9" y2="315.4" stroke="#e8c8a8" stroke-width="4.8"/>
<polyline points="427.8,309.9 423.8,309.0 426.9,311.7 422.9,310.9 426.0,313.5 422.0,312.7 425.1,315.4 421.1,314.5" fill="none" stroke="#7a3a16" stroke-width="1.2" stroke-linejoin="round" stroke-dasharray="1.6 0.7"/>
<line x1="422.9" y1="318.6" x2="428.2" y2="331.0" stroke="#f6f0a0" stroke-width="5.8"/>
<polyline points="425.2,317.6 421.0,320.5 426.0,319.5 421.8,322.4 426.8,321.4 422.6,324.4 427.6,323.3 423.5,326.3 428.5,325.2 424.3,328.2 429.3,327.2 425.1,330.1 430.1,329.1 425.9,332.0" fill="none" stroke="#c8b81c" stroke-width="1.2" stroke-linejoin="round" stroke-dasharray="1.6 0.7"/>
<line x1="426.5" y1="322.9" x2="430.8" y2="334.7" stroke="#e8e4a8" stroke-width="4.8"/>
<polyline points="428.4,322.2 425.0,324.6 429.1,324.2 425.7,326.5 429.8,326.1 426.4,328.5 430.5,328.1 427.1,330.5 431.2,330.1 427.8,332.4 432.0,332.0 428.6,334.4 432.7,334.0" fill="none" stroke="#8e8a22" stroke-width="1.2" stroke-linejoin="round" stroke-dasharray="1.6 0.7"/>
<line x1="429.3" y1="296.0" x2="433.6" y2="315.4" stroke="#b8ecc0" stroke-width="5.8"/>
<polyline points="431.7,295.5 427.1,297.6 432.2,297.5 427.5,299.6 432.6,299.5 428.0,301.6 433.1,301.6 428.4,303.7 433.6,303.6 428.9,305.7 434.0,305.7 429.3,307.8 434.5,307.7 429.8,309.8 434.9,309.8 430.3,311.9 435.4,311.8 430.7,313.9 435.8,313.8 431.2,315.9" fill="none" stroke="#1e9a3a" stroke-width="1.2" stroke-linejoin="round" stroke-dasharray="1.6 0.7"/>
<line x1="431.5" y1="292.9" x2="437.9" y2="306.8" stroke="#bff2f0" stroke-width="4.8"/>
<polyline points="433.3,292.1 430.1,294.7 434.2,293.9 431.0,296.5 435.0,295.8 431.8,298.4 435.9,297.6 432.7,300.2 436.7,299.5 433.5,302.1 437.6,301.3 434.4,303.9 438.4,303.2 435.2,305.8 439.3,305.0 436.1,307.6" fill="none" stroke="#22aaa8" stroke-width="1.2" stroke-linejoin="round" stroke-dasharray="1.6 0.7"/>
<line x1="439.0" y1="296.0" x2="452.9" y2="304.7" stroke="#c4caf2" stroke-width="6.8"/>
<polyline points="440.6,293.5 438.3,299.1 442.3,294.5 440.0,300.2 444.1,295.6 441.8,301.3 445.8,296.7 443.5,302.3 447.5,297.8 445.2,303.4 449.3,298.9 447.0,304.5 451.0,300.0 448.7,305.6 452.8,301.1 450.4,306.7 454.5,302.2" fill="none" stroke="#2232a8" stroke-width="1.2" stroke-linejoin="round" stroke-dasharray="1.6 0.7"/>
<line x1="440.0" y1="306.0" x2="450.0" y2="310.0" stroke="#d4c4ee" stroke-width="3.8"/>
<polyline points="440.6,304.6 440.4,307.8 442.6,305.4 442.4,308.6 444.6,306.2 444.4,309.4 446.6,307.0 446.4,310.2 448.6,307.8 448.4,311.0 450.6,308.6" fill="none" stroke="#4a2490" stroke-width="1.2" stroke-linejoin="round" stroke-dasharray="1.6 0.7"/>
<line x1="436.8" y1="309.0" x2="440.0" y2="316.0" stroke="#b8ecc0" stroke-width="4.3"/>
<polyline points="438.4,308.3 435.7,310.7 439.3,310.3 436.6,312.7 440.2,312.3 437.5,314.7 441.1,314.3 438.4,316.7" fill="none" stroke="#1e9a3a" stroke-width="1.2" stroke-linejoin="round" stroke-dasharray="1.6 0.7"/>
<line x1="460.7" y1="286.4" x2="466.1" y2="301.5" stroke="#bff2f0" stroke-width="4.8"/>
<polyline points="462.6,285.7 459.2,288.0 463.3,287.6 459.8,289.9 463.9,289.5 460.5,291.8 464.6,291.4 461.2,293.7 465.3,293.3 461.9,295.6 466.0,295.2 462.5,297.5 466.6,297.1 463.2,299.3 467.3,298.9 463.9,301.2 468.0,300.8" fill="none" stroke="#22aaa8" stroke-width="1.2" stroke-linejoin="round" stroke-dasharray="1.6 0.7"/>
<line x1="468.2" y1="288.6" x2="485.4" y2="298.2" stroke="#c4caf2" stroke-width="6.8"/>
<polyline points="469.7,286.0 467.6,291.7 471.5,287.0 469.5,292.7 473.3,288.0 471.3,293.7 475.1,289.0 473.1,294.8 476.9,290.0 474.9,295.8 478.7,291.0 476.7,296.8 480.5,292.0 478.5,297.8 482.3,293.1 480.3,298.8 484.1,294.1 482.1,299.8 486.0,295.1 483.9,300.8" fill="none" stroke="#2232a8" stroke-width="1.2" stroke-linejoin="round" stroke-dasharray="1.6 0.7"/>
<line x1="471.5" y1="299.3" x2="480.0" y2="302.5" stroke="#c0c4e8" stroke-width="4.3"/>
<polyline points="472.1,297.7 471.8,301.3 474.0,298.4 473.7,302.0 475.9,299.1 475.6,302.7 477.8,299.8 477.5,303.4 479.7,300.5 479.4,304.1" fill="none" stroke="#18207a" stroke-width="1.2" stroke-linejoin="round" stroke-dasharray="1.6 0.7"/>
<line x1="459.7" y1="303.6" x2="462.9" y2="315.4" stroke="#b8ecc0" stroke-width="4.8"/>
<polyline points="461.6,303.1 458.0,305.1 462.2,305.0 458.6,307.1 462.7,307.0 459.1,309.0 463.2,309.0 459.6,311.0 463.8,310.9 460.2,313.0 464.3,312.9 460.7,314.9 464.8,314.9" fill="none" stroke="#1e9a3a" stroke-width="1.2" stroke-linejoin="round" stroke-dasharray="1.6 0.7"/>
<line x1="467.2" y1="303.6" x2="470.4" y2="316.5" stroke="#b8ecc0" stroke-width="5.8"/>
<polyline points="469.6,303.0 465.0,305.2 470.1,305.0 465.5,307.2 470.6,307.0 466.0,309.2 471.1,309.0 466.5,311.1 471.6,310.9 467.0,313.1 472.1,312.9 467.5,315.1 472.6,314.9 468.0,317.1" fill="none" stroke="#1e9a3a" stroke-width="1.2" stroke-linejoin="round" stroke-dasharray="1.6 0.7"/>
<line x1="460.5" y1="309.5" x2="463.5" y2="313.0" stroke="#e8c8a8" stroke-width="3.8"/>
<polyline points="461.6,308.5 460.1,311.4 463.1,310.3 461.6,313.1 464.6,312.0" fill="none" stroke="#7a3a16" stroke-width="1.2" stroke-linejoin="round" stroke-dasharray="1.6 0.7"/>
<line x1="459.7" y1="318.6" x2="466.1" y2="328.3" stroke="#f6f0a0" stroke-width="5.8"/>
<polyline points="461.8,317.2 458.2,320.9 463.0,319.0 459.4,322.6 464.1,320.8 460.5,324.4 465.3,322.5 461.7,326.1 466.4,324.3 462.8,327.9 467.6,326.0 464.0,329.7" fill="none" stroke="#c8b81c" stroke-width="1.2" stroke-linejoin="round" stroke-dasharray="1.6 0.7"/>
<line x1="481.5" y1="302.0" x2="485.0" y2="308.0" stroke="#e4e4ec" stroke-width="3.8"/>
<polyline points="482.8,301.2 480.8,303.8 484.0,303.2 482.0,305.8 485.1,305.2 483.1,307.8 486.3,307.2" fill="none" stroke="#b8b8c8" stroke-width="1.2" stroke-linejoin="round" stroke-dasharray="1.6 0.7"/>
<line x1="499.4" y1="304.2" x2="510.6" y2="287" stroke="#000" stroke-width="1.9" stroke-linecap="round"/><polyline points="503.7,291.3 510.6,287 509.7,295.2" fill="none" stroke="#000" stroke-width="1.9" stroke-linecap="round" stroke-linejoin="round"/>
<text x="464.6" y="344.6" class="tk">298.15K</text>
<line x1="493.6" y1="204.2" x2="493.6" y2="222.2" stroke="#f1f6fc" stroke-width="3.2"/>
<polyline points="495.9,204.2 495.3,205.0 495.7,205.9 496.4,206.7 496.3,207.5 495.6,208.3 495.3,209.2 496.0,210.0 496.5,210.8 496.1,211.6 495.4,212.5 495.5,213.3 496.3,214.1 496.4,214.9 495.7,215.8 495.3,216.6 495.8,217.4 496.5,218.2 496.2,219.1 495.5,219.9 495.4,220.7 496.1,221.5 496.5,222.4 495.9,223.2" fill="none" stroke="#7d8fb2" stroke-width="1.1"/>
<polyline points="491.3,204.2 490.7,205.0 491.1,205.9 491.8,206.7 491.7,207.5 491.0,208.3 490.7,209.2 491.4,210.0 491.9,210.8 491.5,211.6 490.8,212.5 490.9,213.3 491.7,214.1 491.8,214.9 491.1,215.8 490.7,216.6 491.2,217.4 491.9,218.2 491.6,219.1 490.9,219.9 490.8,220.7 491.5,221.5 491.9,222.4 491.3,223.2" fill="none" stroke="#7d8fb2" stroke-width="1.1"/>
<circle cx="493.6" cy="199.7" r="4" fill="url(#gb)" stroke="#1c4788" stroke-width="1.0"/>
<line x1="511.8" y1="203.1" x2="511.8" y2="220.1" stroke="#f1f6fc" stroke-width="3.2"/>
<polyline points="514.1,203.1 513.5,203.9 513.8,204.7 514.6,205.6 514.6,206.4 513.8,207.2 513.5,208.0 514.1,208.8 514.7,209.6 514.3,210.5 513.6,211.3 513.7,212.1 514.4,212.9 514.7,213.7 514.0,214.6 513.5,215.4 513.9,216.2 514.6,217.0 514.5,217.8 513.8,218.6 513.5,219.5 514.2,220.3 514.7,221.1" fill="none" stroke="#7d8fb2" stroke-width="1.1"/>
<polyline points="509.5,203.1 508.9,203.9 509.2,204.7 510.0,205.6 510.0,206.4 509.2,207.2 508.9,208.0 509.5,208.8 510.1,209.6 509.7,210.5 509.0,211.3 509.1,212.1 509.8,212.9 510.1,213.7 509.4,214.6 508.9,215.4 509.3,216.2 510.0,217.0 509.9,217.8 509.2,218.6 508.9,219.5 509.6,220.3 510.1,221.1" fill="none" stroke="#7d8fb2" stroke-width="1.1"/>
<circle cx="511.8" cy="198.6" r="4" fill="url(#gb)" stroke="#1c4788" stroke-width="1.0"/>
<line x1="548.1" y1="209.2" x2="548.1" y2="228.2" stroke="#f1f6fc" stroke-width="3.2"/>
<polyline points="550.4,209.2 549.8,210.0 550.1,210.8 550.8,211.6 550.9,212.4 550.2,213.2 549.8,214.0 550.3,214.8 550.9,215.6 550.8,216.4 550.0,217.2 549.9,218.0 550.5,218.8 551.0,219.6 550.6,220.4 549.9,221.2 550.0,222.0 550.7,222.8 551.0,223.6 550.4,224.4 549.8,225.2 550.1,226.0 550.8,226.8 550.9,227.6 550.2,228.4 549.8,229.2" fill="none" stroke="#7d8fb2" stroke-width="1.1"/>
<polyline points="545.8,209.2 545.2,210.0 545.5,210.8 546.2,211.6 546.3,212.4 545.6,213.2 545.2,214.0 545.7,214.8 546.3,215.6 546.2,216.4 545.4,217.2 545.3,218.0 545.9,218.8 546.4,219.6 546.0,220.4 545.3,221.2 545.4,222.0 546.1,222.8 546.4,223.6 545.8,224.4 545.2,225.2 545.5,226.0 546.2,226.8 546.3,227.6 545.6,228.4 545.2,229.2" fill="none" stroke="#7d8fb2" stroke-width="1.1"/>
<circle cx="548.1" cy="204.7" r="4" fill="url(#gb)" stroke="#1c4788" stroke-width="1.0"/>
<line x1="484.0" y1="253.5" x2="484.0" y2="233.5" stroke="#f1f6fc" stroke-width="3.2"/>
<polyline points="481.7,253.5 482.3,252.7 482.0,251.9 481.2,251.1 481.2,250.3 481.9,249.5 482.3,248.7 481.7,247.8 481.1,247.0 481.4,246.2 482.1,245.4 482.2,244.6 481.5,243.8 481.1,243.0 481.6,242.2 482.3,241.4 482.1,240.6 481.3,239.8 481.2,239.0 481.8,238.2 482.3,237.3 481.8,236.5 481.2,235.7 481.3,234.9 482.1,234.1 482.3,233.3 481.6,232.5" fill="none" stroke="#7d8fb2" stroke-width="1.1"/>
<polyline points="486.3,253.5 486.9,252.7 486.6,251.9 485.8,251.1 485.8,250.3 486.5,249.5 486.9,248.7 486.3,247.8 485.7,247.0 486.0,246.2 486.7,245.4 486.8,244.6 486.1,243.8 485.7,243.0 486.2,242.2 486.9,241.4 486.7,240.6 485.9,239.8 485.8,239.0 486.4,238.2 486.9,237.3 486.4,236.5 485.8,235.7 485.9,234.9 486.7,234.1 486.9,233.3 486.2,232.5" fill="none" stroke="#7d8fb2" stroke-width="1.1"/>
<circle cx="484.0" cy="258.3" r="4.3" fill="url(#gb)" stroke="#1c4788" stroke-width="1.0"/>
<line x1="518.0" y1="258.4" x2="518.0" y2="276.4" stroke="#f1f6fc" stroke-width="3.2"/>
<polyline points="520.3,258.4 519.7,259.2 520.1,260.1 520.8,260.9 520.7,261.7 520.0,262.5 519.7,263.4 520.4,264.2 520.9,265.0 520.5,265.8 519.8,266.7 519.9,267.5 520.7,268.3 520.8,269.1 520.1,270.0 519.7,270.8 520.2,271.6 520.9,272.4 520.6,273.3 519.9,274.1 519.8,274.9 520.5,275.7 520.9,276.6 520.3,277.4" fill="none" stroke="#7d8fb2" stroke-width="1.1"/>
<polyline points="515.7,258.4 515.1,259.2 515.5,260.1 516.2,260.9 516.1,261.7 515.4,262.5 515.1,263.4 515.8,264.2 516.3,265.0 515.9,265.8 515.2,266.7 515.3,267.5 516.1,268.3 516.2,269.1 515.5,270.0 515.1,270.8 515.6,271.6 516.3,272.4 516.0,273.3 515.3,274.1 515.2,274.9 515.9,275.7 516.3,276.6 515.7,277.4" fill="none" stroke="#7d8fb2" stroke-width="1.1"/>
<circle cx="518.0" cy="253.7" r="4.2" fill="url(#gb)" stroke="#1c4788" stroke-width="1.0"/>
<ellipse cx="497.0" cy="244.0" rx="7.8" ry="7.8" fill="#f4f8fd"/>
<line x1="497.0" y1="244.0" x2="500.4" y2="250.1" stroke="#7898c4" stroke-width="0.9"/>
<line x1="497.0" y1="244.0" x2="497.8" y2="250.9" stroke="#7898c4" stroke-width="0.9"/>
<line x1="497.0" y1="244.0" x2="495.2" y2="250.7" stroke="#7898c4" stroke-width="0.9"/>
<line x1="497.0" y1="244.0" x2="492.8" y2="249.5" stroke="#7898c4" stroke-width="0.9"/>
<line x1="497.0" y1="244.0" x2="491.0" y2="247.5" stroke="#7898c4" stroke-width="0.9"/>
<line x1="497.0" y1="244.0" x2="490.1" y2="245.0" stroke="#7898c4" stroke-width="0.9"/>
<line x1="497.0" y1="244.0" x2="490.2" y2="242.4" stroke="#7898c4" stroke-width="0.9"/>
<line x1="497.0" y1="244.0" x2="491.4" y2="240.0" stroke="#7898c4" stroke-width="0.9"/>
<line x1="497.0" y1="244.0" x2="493.3" y2="238.1" stroke="#7898c4" stroke-width="0.9"/>
<line x1="497.0" y1="244.0" x2="495.8" y2="237.2" stroke="#7898c4" stroke-width="0.9"/>
<line x1="497.0" y1="244.0" x2="498.4" y2="237.2" stroke="#7898c4" stroke-width="0.9"/>
<line x1="497.0" y1="244.0" x2="500.9" y2="238.2" stroke="#7898c4" stroke-width="0.9"/>
<circle cx="497.0" cy="244.0" r="1.1" fill="#4a78b8"/>
<path d="M503.0,251.1 A9.3,9.3 0 1 1 503.6,237.4" fill="none" stroke="#24508f" stroke-width="3.3"/>
<circle cx="503.0" cy="251.1" r="2.2" fill="#4072b8" stroke="#1e4b8e" stroke-width="1.1"/>
<circle cx="499.5" cy="252.9" r="2.2" fill="#4072b8" stroke="#1e4b8e" stroke-width="1.1"/>
<circle cx="495.7" cy="253.2" r="2.2" fill="#4072b8" stroke="#1e4b8e" stroke-width="1.1"/>
<circle cx="492.0" cy="251.9" r="2.2" fill="#4072b8" stroke="#1e4b8e" stroke-width="1.1"/>
<circle cx="489.3" cy="249.2" r="2.2" fill="#4072b8" stroke="#1e4b8e" stroke-width="1.1"/>
<circle cx="487.8" cy="245.5" r="2.2" fill="#4072b8" stroke="#1e4b8e" stroke-width="1.1"/>
<circle cx="488.0" cy="241.7" r="2.2" fill="#4072b8" stroke="#1e4b8e" stroke-width="1.1"/>
<circle cx="489.7" cy="238.2" r="2.2" fill="#4072b8" stroke="#1e4b8e" stroke-width="1.1"/>
<circle cx="492.7" cy="235.7" r="2.2" fill="#4072b8" stroke="#1e4b8e" stroke-width="1.1"/>
<circle cx="496.5" cy="234.7" r="2.2" fill="#4072b8" stroke="#1e4b8e" stroke-width="1.1"/>
<circle cx="500.3" cy="235.3" r="2.2" fill="#4072b8" stroke="#1e4b8e" stroke-width="1.1"/>
<circle cx="503.6" cy="237.4" r="2.2" fill="#4072b8" stroke="#1e4b8e" stroke-width="1.1"/>
<ellipse cx="537.5" cy="237.0" rx="7.8" ry="7.8" fill="#f4f8fd"/>
<line x1="537.5" y1="237.0" x2="536.0" y2="230.2" stroke="#7898c4" stroke-width="0.9"/>
<line x1="537.5" y1="237.0" x2="538.4" y2="230.1" stroke="#7898c4" stroke-width="0.9"/>
<line x1="537.5" y1="237.0" x2="540.7" y2="230.8" stroke="#7898c4" stroke-width="0.9"/>
<line x1="537.5" y1="237.0" x2="542.6" y2="232.3" stroke="#7898c4" stroke-width="0.9"/>
<line x1="537.5" y1="237.0" x2="543.9" y2="234.3" stroke="#7898c4" stroke-width="0.9"/>
<line x1="537.5" y1="237.0" x2="544.4" y2="236.6" stroke="#7898c4" stroke-width="0.9"/>
<line x1="537.5" y1="237.0" x2="544.2" y2="239.0" stroke="#7898c4" stroke-width="0.9"/>
<line x1="537.5" y1="237.0" x2="543.1" y2="241.1" stroke="#7898c4" stroke-width="0.9"/>
<line x1="537.5" y1="237.0" x2="541.4" y2="242.8" stroke="#7898c4" stroke-width="0.9"/>
<line x1="537.5" y1="237.0" x2="539.2" y2="243.7" stroke="#7898c4" stroke-width="0.9"/>
<line x1="537.5" y1="237.0" x2="536.8" y2="243.9" stroke="#7898c4" stroke-width="0.9"/>
<line x1="537.5" y1="237.0" x2="534.5" y2="243.3" stroke="#7898c4" stroke-width="0.9"/>
<circle cx="537.5" cy="237.0" r="1.1" fill="#4a78b8"/>
<path d="M534.0,228.4 A9.3,9.3 0 1 1 532.2,244.6" fill="none" stroke="#24508f" stroke-width="3.3"/>
<circle cx="534.0" cy="228.4" r="2.2" fill="#4072b8" stroke="#1e4b8e" stroke-width="1.1"/>
<circle cx="537.8" cy="227.7" r="2.2" fill="#4072b8" stroke="#1e4b8e" stroke-width="1.1"/>
<circle cx="541.5" cy="228.6" r="2.2" fill="#4072b8" stroke="#1e4b8e" stroke-width="1.1"/>
<circle cx="544.5" cy="230.9" r="2.2" fill="#4072b8" stroke="#1e4b8e" stroke-width="1.1"/>
<circle cx="546.4" cy="234.2" r="2.2" fill="#4072b8" stroke="#1e4b8e" stroke-width="1.1"/>
<circle cx="546.7" cy="238.1" r="2.2" fill="#4072b8" stroke="#1e4b8e" stroke-width="1.1"/>
<circle cx="545.5" cy="241.7" r="2.2" fill="#4072b8" stroke="#1e4b8e" stroke-width="1.1"/>
<circle cx="543.0" cy="244.5" r="2.2" fill="#4072b8" stroke="#1e4b8e" stroke-width="1.1"/>
<circle cx="539.5" cy="246.1" r="2.2" fill="#4072b8" stroke="#1e4b8e" stroke-width="1.1"/>
<circle cx="535.7" cy="246.1" r="2.2" fill="#4072b8" stroke="#1e4b8e" stroke-width="1.1"/>
<circle cx="532.2" cy="244.6" r="2.2" fill="#4072b8" stroke="#1e4b8e" stroke-width="1.1"/>
<line x1="495.2" y1="225.4" x2="500.5" y2="210.4" stroke="#f2bcbc" stroke-width="7.8"/>
<polyline points="491.9,224.2 498.9,225.6 492.6,222.2 499.6,223.6 493.3,220.2 500.3,221.6 494.0,218.2 501.0,219.6 494.7,216.2 501.7,217.6 495.4,214.2 502.4,215.6 496.1,212.2 503.1,213.6 496.8,210.2 503.8,211.6" fill="none" stroke="#b0282e" stroke-width="1.2" stroke-linejoin="round" stroke-dasharray="1.6 0.7"/>
<line x1="500.5" y1="222.0" x2="505.0" y2="209.5" stroke="#f2bcbc" stroke-width="5.3"/>
<polyline points="498.4,221.2 503.0,221.8 499.1,219.3 503.7,219.9 499.8,217.4 504.3,218.0 500.5,215.5 505.0,216.0 501.2,213.5 505.7,214.1 501.8,211.6 506.4,212.2 502.5,209.7 507.1,210.3" fill="none" stroke="#b0282e" stroke-width="1.2" stroke-linejoin="round" stroke-dasharray="1.6 0.7"/>
<line x1="500.5" y1="226.5" x2="509.1" y2="220.0" stroke="#f6d0a8" stroke-width="5.3"/>
<polyline points="499.1,224.7 502.7,227.6 500.9,223.4 504.4,226.3 502.6,222.1 506.2,225.0 504.3,220.8 507.9,223.7 506.0,219.5 509.6,222.4 507.7,218.2" fill="none" stroke="#c05a1c" stroke-width="1.2" stroke-linejoin="round" stroke-dasharray="1.6 0.7"/>
<line x1="505.0" y1="229.0" x2="512.0" y2="240.0" stroke="#e8c8a8" stroke-width="4.8"/>
<polyline points="506.7,227.9 503.9,230.9 507.8,229.6 504.9,232.6 508.8,231.3 506.0,234.3 509.9,233.0 507.1,236.0 511.0,234.7 508.2,237.7 512.1,236.4 509.2,239.4 513.1,238.1 510.3,241.1" fill="none" stroke="#7a3a16" stroke-width="1.2" stroke-linejoin="round" stroke-dasharray="1.6 0.7"/>
<line x1="512.0" y1="229.0" x2="506.0" y2="238.0" stroke="#f6d0a8" stroke-width="4.3"/>
<polyline points="513.5,230.0 509.9,228.9 512.3,231.8 508.7,230.7 511.1,233.6 507.5,232.5 509.9,235.4 506.3,234.3 508.7,237.2 505.1,236.1 507.5,239.0" fill="none" stroke="#c05a1c" stroke-width="1.2" stroke-linejoin="round" stroke-dasharray="1.6 0.7"/>
<line x1="515.3" y1="242.3" x2="524.7" y2="251.7" stroke="#f6f0a0" stroke-width="5.8"/>
<polyline points="517.1,240.5 514.3,244.8 518.5,242.0 515.7,246.2 520.0,243.4 517.1,247.7 521.4,244.9 518.6,249.1 522.9,246.3 520.0,250.6 524.3,247.8 521.5,252.0 525.7,249.2 522.9,253.5" fill="none" stroke="#c8b81c" stroke-width="1.2" stroke-linejoin="round" stroke-dasharray="1.6 0.7"/>
<line x1="507.0" y1="241.0" x2="512.0" y2="252.0" stroke="#f6f0a0" stroke-width="4.8"/>
<polyline points="508.8,240.2 505.6,242.7 509.7,242.0 506.4,244.6 510.5,243.8 507.3,246.4 511.3,245.7 508.1,248.2 512.2,247.5 508.9,250.1 513.0,249.3 509.8,251.9 513.8,251.2" fill="none" stroke="#c8b81c" stroke-width="1.2" stroke-linejoin="round" stroke-dasharray="1.6 0.7"/>
<line x1="519.7" y1="215.4" x2="521.8" y2="227.2" stroke="#bff2f0" stroke-width="4.8"/>
<polyline points="521.7,215.0 517.9,216.8 522.1,217.2 518.3,219.0 522.4,219.3 518.7,221.1 522.8,221.5 519.1,223.3 523.2,223.6 519.4,225.4 523.6,225.8 519.8,227.6" fill="none" stroke="#22aaa8" stroke-width="1.2" stroke-linejoin="round" stroke-dasharray="1.6 0.7"/>
<line x1="518.6" y1="222.9" x2="524.0" y2="242.2" stroke="#b8ecc0" stroke-width="6.3"/>
<polyline points="521.2,222.2 516.2,224.6 521.8,224.1 516.8,226.5 522.3,226.0 517.3,228.5 522.9,227.9 517.8,230.4 523.4,229.9 518.4,232.3 523.9,231.8 518.9,234.3 524.5,233.7 519.5,236.2 525.0,235.7 520.0,238.1 525.6,237.6 520.5,240.0 526.1,239.5 521.1,242.0 526.6,241.5" fill="none" stroke="#1e9a3a" stroke-width="1.2" stroke-linejoin="round" stroke-dasharray="1.6 0.7"/>
<line x1="527.3" y1="229.0" x2="531.3" y2="242.3" stroke="#b8ecc0" stroke-width="4.8"/>
<polyline points="529.2,228.4 525.7,230.6 529.8,230.5 526.3,232.6 530.4,232.5 526.9,234.7 531.1,234.6 527.5,236.7 531.7,236.6 528.2,238.8 532.3,238.7 528.8,240.8 532.9,240.7 529.4,242.9" fill="none" stroke="#1e9a3a" stroke-width="1.2" stroke-linejoin="round" stroke-dasharray="1.6 0.7"/>
<line x1="528.2" y1="216.5" x2="544.3" y2="226.1" stroke="#c4caf2" stroke-width="7.3"/>
<polyline points="529.9,213.7 527.4,219.8 531.7,214.8 529.2,220.9 533.4,215.8 531.0,222.0 535.2,216.9 532.8,223.0 537.0,218.0 534.6,224.1 538.8,219.0 536.4,225.2 540.6,220.1 538.2,226.2 542.4,221.2 540.0,227.3 544.2,222.2 541.7,228.4 546.0,223.3" fill="none" stroke="#2232a8" stroke-width="1.2" stroke-linejoin="round" stroke-dasharray="1.6 0.7"/>
<line x1="526.0" y1="227.2" x2="537.9" y2="228.3" stroke="#c0c4e8" stroke-width="4.3"/>
<polyline points="526.2,225.5 526.9,229.0 528.3,225.7 529.1,229.2 530.5,225.9 531.2,229.4 532.7,226.1 533.4,229.6 534.8,226.3 535.6,229.8 537.0,226.5 537.7,230.0" fill="none" stroke="#18207a" stroke-width="1.2" stroke-linejoin="round" stroke-dasharray="1.6 0.7"/>
<line x1="534.9" y1="195.2" x2="523.3" y2="172.5" stroke="#000" stroke-width="1.9" stroke-linecap="round"/><polyline points="523.3,181 523.3,172.5 530.6,177.6" fill="none" stroke="#000" stroke-width="1.9" stroke-linecap="round" stroke-linejoin="round"/>
<text x="548.7" y="265.9" class="tk">308.15K</text>
<line x1="499.3" y1="99.5" x2="499.3" y2="119.5" stroke="#f1f6fc" stroke-width="3.2"/>
<polyline points="501.6,99.5 501.0,100.3 501.3,101.1 502.1,101.9 502.1,102.7 501.4,103.5 501.0,104.3 501.6,105.2 502.2,106.0 501.9,106.8 501.2,107.6 501.1,108.4 501.8,109.2 502.2,110.0 501.7,110.8 501.0,111.6 501.2,112.4 502.0,113.2 502.1,114.0 501.5,114.8 501.0,115.7 501.5,116.5 502.1,117.3 502.0,118.1 501.2,118.9 501.0,119.7 501.7,120.5" fill="none" stroke="#7d8fb2" stroke-width="1.1"/>
<polyline points="497.0,99.5 496.4,100.3 496.7,101.1 497.5,101.9 497.5,102.7 496.8,103.5 496.4,104.3 497.0,105.2 497.6,106.0 497.3,106.8 496.6,107.6 496.5,108.4 497.2,109.2 497.6,110.0 497.1,110.8 496.4,111.6 496.6,112.4 497.4,113.2 497.5,114.0 496.9,114.8 496.4,115.7 496.9,116.5 497.5,117.3 497.4,118.1 496.6,118.9 496.4,119.7 497.1,120.5" fill="none" stroke="#7d8fb2" stroke-width="1.1"/>
<circle cx="499.3" cy="95.0" r="4" fill="url(#gb)" stroke="#1c4788" stroke-width="1.0"/>
<line x1="487.5" y1="107.5" x2="487.5" y2="127.5" stroke="#f1f6fc" stroke-width="3.2"/>
<polyline points="489.8,107.5 489.2,108.3 489.5,109.1 490.3,109.9 490.3,110.7 489.6,111.5 489.2,112.3 489.8,113.2 490.4,114.0 490.1,114.8 489.4,115.6 489.3,116.4 490.0,117.2 490.4,118.0 489.9,118.8 489.2,119.6 489.4,120.4 490.2,121.2 490.3,122.0 489.7,122.8 489.2,123.7 489.7,124.5 490.3,125.3 490.2,126.1 489.4,126.9 489.2,127.7 489.9,128.5" fill="none" stroke="#7d8fb2" stroke-width="1.1"/>
<polyline points="485.2,107.5 484.6,108.3 484.9,109.1 485.7,109.9 485.7,110.7 485.0,111.5 484.6,112.3 485.2,113.2 485.8,114.0 485.5,114.8 484.8,115.6 484.7,116.4 485.4,117.2 485.8,118.0 485.3,118.8 484.6,119.6 484.8,120.4 485.6,121.2 485.7,122.0 485.1,122.8 484.6,123.7 485.1,124.5 485.7,125.3 485.6,126.1 484.8,126.9 484.6,127.7 485.3,128.5" fill="none" stroke="#7d8fb2" stroke-width="1.1"/>
<circle cx="487.5" cy="103.0" r="4" fill="url(#gb)" stroke="#1c4788" stroke-width="1.0"/>
<line x1="469.3" y1="119.3" x2="469.3" y2="138.3" stroke="#f1f6fc" stroke-width="3.2"/>
<polyline points="471.6,119.3 471.0,120.1 471.3,120.9 472.0,121.7 472.1,122.5 471.4,123.3 471.0,124.1 471.5,124.9 472.1,125.7 472.0,126.5 471.2,127.3 471.1,128.1 471.7,128.9 472.2,129.7 471.8,130.5 471.1,131.3 471.2,132.1 471.9,132.9 472.2,133.7 471.6,134.5 471.0,135.3 471.3,136.1 472.0,136.9 472.1,137.7 471.4,138.5 471.0,139.3" fill="none" stroke="#7d8fb2" stroke-width="1.1"/>
<polyline points="467.0,119.3 466.4,120.1 466.7,120.9 467.4,121.7 467.5,122.5 466.8,123.3 466.4,124.1 466.9,124.9 467.5,125.7 467.4,126.5 466.6,127.3 466.5,128.1 467.1,128.9 467.6,129.7 467.2,130.5 466.5,131.3 466.6,132.1 467.3,132.9 467.6,133.7 467.0,134.5 466.4,135.3 466.7,136.1 467.4,136.9 467.5,137.7 466.8,138.5 466.4,139.3" fill="none" stroke="#7d8fb2" stroke-width="1.1"/>
<circle cx="469.3" cy="114.8" r="4" fill="url(#gb)" stroke="#1c4788" stroke-width="1.0"/>
<line x1="520.1" y1="125.9" x2="502.5" y2="118.8" stroke="#f1f6fc" stroke-width="3.2"/>
<polyline points="519.3,128.0 518.8,127.2 517.9,127.2 516.9,127.5 516.1,127.3 515.7,126.4 515.1,125.7 514.1,125.8 513.1,126.1 512.5,125.7 512.0,124.7 511.3,124.2 510.3,124.5 509.4,124.7 508.8,124.0 508.3,123.1 507.6,122.8 506.6,123.2 505.7,123.2 505.2,122.3 504.7,121.5 503.8,121.5 502.8,121.9 502.0,121.6 501.6,120.7 501.0,120.0" fill="none" stroke="#7d8fb2" stroke-width="1.1"/>
<polyline points="521.0,123.8 520.5,122.9 519.6,122.9 518.6,123.3 517.9,123.0 517.4,122.1 516.8,121.4 515.9,121.6 514.9,121.9 514.2,121.4 513.7,120.4 513.1,120.0 512.1,120.3 511.1,120.4 510.6,119.8 510.1,118.8 509.3,118.6 508.3,118.9 507.4,118.9 506.9,118.1 506.4,117.2 505.5,117.2 504.5,117.6 503.8,117.3 503.3,116.4 502.7,115.7" fill="none" stroke="#7d8fb2" stroke-width="1.1"/>
<circle cx="524.6" cy="127.7" r="4.3" fill="url(#gb)" stroke="#1c4788" stroke-width="1.0"/>
<line x1="466.5" y1="163.0" x2="466.5" y2="140.0" stroke="#f1f6fc" stroke-width="3.2"/>
<polyline points="464.2,163.0 464.8,162.2 464.5,161.4 463.8,160.6 463.7,159.8 464.4,159.0 464.8,158.2 464.3,157.4 463.7,156.6 463.8,155.8 464.6,155.0 464.7,154.2 464.1,153.4 463.6,152.6 464.0,151.8 464.7,151.0 464.6,150.2 463.9,149.4 463.6,148.6 464.2,147.8 464.8,147.0 464.5,146.2 463.8,145.4 463.7,144.6 464.4,143.8 464.8,143.0 464.3,142.2 463.7,141.4 463.8,140.6 464.6,139.8 464.7,139.0" fill="none" stroke="#7d8fb2" stroke-width="1.1"/>
<polyline points="468.8,163.0 469.4,162.2 469.1,161.4 468.4,160.6 468.3,159.8 469.0,159.0 469.4,158.2 468.9,157.4 468.3,156.6 468.4,155.8 469.2,155.0 469.3,154.2 468.7,153.4 468.2,152.6 468.6,151.8 469.3,151.0 469.2,150.2 468.5,149.4 468.2,148.6 468.8,147.8 469.4,147.0 469.1,146.2 468.4,145.4 468.3,144.6 469.0,143.8 469.4,143.0 468.9,142.2 468.3,141.4 468.4,140.6 469.2,139.8 469.3,139.0" fill="none" stroke="#7d8fb2" stroke-width="1.1"/>
<circle cx="466.5" cy="167.8" r="4.3" fill="url(#gb)" stroke="#1c4788" stroke-width="1.0"/>
<line x1="478.3" y1="157.1" x2="478.3" y2="140.1" stroke="#f1f6fc" stroke-width="3.2"/>
<polyline points="476.0,157.1 476.6,156.3 476.3,155.5 475.5,154.6 475.5,153.8 476.3,153.0 476.6,152.2 476.0,151.4 475.4,150.6 475.8,149.7 476.5,148.9 476.4,148.1 475.7,147.3 475.4,146.5 476.1,145.6 476.6,144.8 476.2,144.0 475.5,143.2 475.6,142.4 476.3,141.6 476.6,140.7 475.9,139.9 475.4,139.1" fill="none" stroke="#7d8fb2" stroke-width="1.1"/>
<polyline points="480.6,157.1 481.2,156.3 480.9,155.5 480.1,154.6 480.1,153.8 480.9,153.0 481.2,152.2 480.6,151.4 480.0,150.6 480.4,149.7 481.1,148.9 481.0,148.1 480.3,147.3 480.0,146.5 480.7,145.6 481.2,144.8 480.8,144.0 480.1,143.2 480.2,142.4 480.9,141.6 481.2,140.7 480.5,139.9 480.0,139.1" fill="none" stroke="#7d8fb2" stroke-width="1.1"/>
<circle cx="478.3" cy="161.9" r="4.3" fill="url(#gb)" stroke="#1c4788" stroke-width="1.0"/>
<line x1="499.6" y1="173.0" x2="499.6" y2="194.0" stroke="#f1f6fc" stroke-width="3.2"/>
<polyline points="501.9,173.0 501.3,173.8 501.6,174.6 502.4,175.4 502.4,176.3 501.6,177.1 501.3,177.9 501.9,178.7 502.5,179.5 502.2,180.3 501.4,181.1 501.4,182.0 502.2,182.8 502.5,183.6 501.9,184.4 501.3,185.2 501.6,186.0 502.4,186.9 502.4,187.7 501.6,188.5 501.3,189.3 501.9,190.1 502.5,190.9 502.1,191.7 501.4,192.6 501.4,193.4 502.2,194.2 502.5,195.0" fill="none" stroke="#7d8fb2" stroke-width="1.1"/>
<polyline points="497.3,173.0 496.7,173.8 497.0,174.6 497.8,175.4 497.8,176.3 497.0,177.1 496.7,177.9 497.3,178.7 497.9,179.5 497.6,180.3 496.8,181.1 496.8,182.0 497.6,182.8 497.9,183.6 497.3,184.4 496.7,185.2 497.0,186.0 497.8,186.9 497.8,187.7 497.0,188.5 496.7,189.3 497.3,190.1 497.9,190.9 497.5,191.7 496.8,192.6 496.8,193.4 497.6,194.2 497.9,195.0" fill="none" stroke="#7d8fb2" stroke-width="1.1"/>
<circle cx="499.6" cy="168.4" r="4.1" fill="url(#gb)" stroke="#1c4788" stroke-width="1.0"/>
<ellipse cx="512.5" cy="148.5" rx="7.5" ry="7.5" fill="#f4f8fd"/>
<line x1="512.5" y1="148.5" x2="514.6" y2="142.2" stroke="#7898c4" stroke-width="0.9"/>
<line x1="512.5" y1="148.5" x2="516.4" y2="143.1" stroke="#7898c4" stroke-width="0.9"/>
<line x1="512.5" y1="148.5" x2="517.8" y2="144.5" stroke="#7898c4" stroke-width="0.9"/>
<line x1="512.5" y1="148.5" x2="518.7" y2="146.2" stroke="#7898c4" stroke-width="0.9"/>
<line x1="512.5" y1="148.5" x2="519.1" y2="148.1" stroke="#7898c4" stroke-width="0.9"/>
<line x1="512.5" y1="148.5" x2="519.0" y2="150.1" stroke="#7898c4" stroke-width="0.9"/>
<line x1="512.5" y1="148.5" x2="518.2" y2="151.9" stroke="#7898c4" stroke-width="0.9"/>
<line x1="512.5" y1="148.5" x2="516.9" y2="153.5" stroke="#7898c4" stroke-width="0.9"/>
<line x1="512.5" y1="148.5" x2="515.3" y2="154.5" stroke="#7898c4" stroke-width="0.9"/>
<line x1="512.5" y1="148.5" x2="513.4" y2="155.1" stroke="#7898c4" stroke-width="0.9"/>
<line x1="512.5" y1="148.5" x2="511.4" y2="155.1" stroke="#7898c4" stroke-width="0.9"/>
<line x1="512.5" y1="148.5" x2="509.5" y2="154.5" stroke="#7898c4" stroke-width="0.9"/>
<circle cx="512.5" cy="148.5" r="1.1" fill="#4a78b8"/>
<path d="M514.1,139.6 A9.0,9.0 0 1 1 507.3,155.9" fill="none" stroke="#24508f" stroke-width="3.3"/>
<circle cx="514.1" cy="139.6" r="2.2" fill="#4072b8" stroke="#1e4b8e" stroke-width="1.1"/>
<circle cx="517.1" cy="140.7" r="2.2" fill="#4072b8" stroke="#1e4b8e" stroke-width="1.1"/>
<circle cx="519.5" cy="142.8" r="2.2" fill="#4072b8" stroke="#1e4b8e" stroke-width="1.1"/>
<circle cx="521.0" cy="145.6" r="2.2" fill="#4072b8" stroke="#1e4b8e" stroke-width="1.1"/>
<circle cx="521.5" cy="148.8" r="2.2" fill="#4072b8" stroke="#1e4b8e" stroke-width="1.1"/>
<circle cx="520.8" cy="151.9" r="2.2" fill="#4072b8" stroke="#1e4b8e" stroke-width="1.1"/>
<circle cx="519.1" cy="154.6" r="2.2" fill="#4072b8" stroke="#1e4b8e" stroke-width="1.1"/>
<circle cx="516.5" cy="156.6" r="2.2" fill="#4072b8" stroke="#1e4b8e" stroke-width="1.1"/>
<circle cx="513.4" cy="157.5" r="2.2" fill="#4072b8" stroke="#1e4b8e" stroke-width="1.1"/>
<circle cx="510.2" cy="157.2" r="2.2" fill="#4072b8" stroke="#1e4b8e" stroke-width="1.1"/>
<circle cx="507.3" cy="155.9" r="2.2" fill="#4072b8" stroke="#1e4b8e" stroke-width="1.1"/>
<line x1="470.6" y1="135.3" x2="477.7" y2="121.2" stroke="#f2bcbc" stroke-width="8.8"/>
<polyline points="467.0,133.5 474.6,136.2 468.0,131.6 475.6,134.3 468.9,129.7 476.5,132.4 469.9,127.9 477.5,130.5 470.8,126.0 478.4,128.6 471.8,124.1 479.4,126.8 472.7,122.2 480.3,124.9 473.7,120.3 481.3,123.0" fill="none" stroke="#b0282e" stroke-width="1.2" stroke-linejoin="round" stroke-dasharray="1.6 0.7"/>
<line x1="477.0" y1="137.5" x2="484.0" y2="123.5" stroke="#f2bcbc" stroke-width="5.8"/>
<polyline points="474.8,136.4 479.7,137.7 475.7,134.5 480.6,135.8 476.6,132.6 481.6,134.0 477.6,130.8 482.5,132.1 478.5,128.9 483.4,130.2 479.4,127.0 484.4,128.4 480.4,125.2 485.3,126.5 481.3,123.3 486.2,124.6" fill="none" stroke="#b0282e" stroke-width="1.2" stroke-linejoin="round" stroke-dasharray="1.6 0.7"/>
<line x1="483.5" y1="126.0" x2="488.0" y2="131.0" stroke="#e8c8a8" stroke-width="3.8"/>
<polyline points="484.6,125.0 483.1,127.8 486.1,126.7 484.6,129.5 487.6,128.3 486.1,131.2 489.1,130.0" fill="none" stroke="#7a3a16" stroke-width="1.2" stroke-linejoin="round" stroke-dasharray="1.6 0.7"/>
<line x1="478.9" y1="136.5" x2="488.3" y2="130.6" stroke="#f6d0a8" stroke-width="5.8"/>
<polyline points="477.6,134.4 481.1,138.1 479.3,133.3 482.8,137.0 481.0,132.2 484.5,135.9 482.7,131.2 486.2,134.9 484.4,130.1 487.9,133.8 486.1,129.0 489.6,132.7" fill="none" stroke="#c05a1c" stroke-width="1.2" stroke-linejoin="round" stroke-dasharray="1.6 0.7"/>
<line x1="481.3" y1="140.0" x2="483.6" y2="147.2" stroke="#e8e4a8" stroke-width="4.8"/>
<polyline points="483.2,139.4 479.7,141.6 483.9,141.4 480.4,143.7 484.5,143.5 481.0,145.8 485.2,145.6 481.7,147.8" fill="none" stroke="#8e8a22" stroke-width="1.2" stroke-linejoin="round" stroke-dasharray="1.6 0.7"/>
<line x1="486.0" y1="138.9" x2="490.7" y2="151.9" stroke="#e8c8a8" stroke-width="4.8"/>
<polyline points="487.9,138.2 484.5,140.6 488.6,140.2 485.2,142.6 489.3,142.2 485.9,144.6 490.1,144.2 486.6,146.6 490.8,146.2 487.4,148.6 491.5,148.2 488.1,150.6 492.2,150.2 488.8,152.6" fill="none" stroke="#7a3a16" stroke-width="1.2" stroke-linejoin="round" stroke-dasharray="1.6 0.7"/>
<line x1="491.9" y1="140.0" x2="486.0" y2="150.7" stroke="#f6d0a8" stroke-width="4.3"/>
<polyline points="493.4,140.8 489.9,140.0 492.4,142.6 488.9,141.8 491.5,144.4 487.9,143.6 490.5,146.2 486.9,145.4 489.5,148.0 485.9,147.2 488.5,149.8 485.0,149.0 487.5,151.5" fill="none" stroke="#c05a1c" stroke-width="1.2" stroke-linejoin="round" stroke-dasharray="1.6 0.7"/>
<line x1="488.3" y1="153.0" x2="495.4" y2="166.0" stroke="#f6f0a0" stroke-width="6.8"/>
<polyline points="490.9,151.6 486.2,155.4 491.9,153.4 487.2,157.2 493.0,155.3 488.2,159.1 494.0,157.1 489.2,160.9 495.0,159.0 490.2,162.8 496.0,160.8 491.2,164.7 497.0,162.7 492.3,166.5 498.0,164.6" fill="none" stroke="#c8b81c" stroke-width="1.2" stroke-linejoin="round" stroke-dasharray="1.6 0.7"/>
<line x1="495.4" y1="149.5" x2="501.3" y2="157.8" stroke="#e8e4a8" stroke-width="4.8"/>
<polyline points="497.0,148.3 494.4,151.5 498.2,150.0 495.5,153.1 499.4,151.7 496.7,154.8 500.6,153.3 497.9,156.5 501.8,155.0 499.1,158.1 502.9,156.6" fill="none" stroke="#8e8a22" stroke-width="1.2" stroke-linejoin="round" stroke-dasharray="1.6 0.7"/>
<line x1="495.4" y1="138.9" x2="502.5" y2="151.9" stroke="#b8ecc0" stroke-width="6.8"/>
<polyline points="498.0,137.5 493.3,141.3 499.0,139.3 494.3,143.1 500.1,141.2 495.3,145.0 501.1,143.0 496.3,146.8 502.1,144.9 497.3,148.7 503.1,146.7 498.3,150.6 504.1,148.6 499.4,152.4 505.1,150.5" fill="none" stroke="#1e9a3a" stroke-width="1.2" stroke-linejoin="round" stroke-dasharray="1.6 0.7"/>
<line x1="495.4" y1="127.1" x2="499.0" y2="136.5" stroke="#bff2f0" stroke-width="5.3"/>
<polyline points="497.5,126.3 493.7,128.8 498.2,128.2 494.4,130.7 498.9,130.1 495.1,132.6 499.7,131.9 495.8,134.5 500.4,133.8 496.5,136.4 501.1,135.7" fill="none" stroke="#22aaa8" stroke-width="1.2" stroke-linejoin="round" stroke-dasharray="1.6 0.7"/>
<line x1="504.9" y1="127.1" x2="521.4" y2="135.3" stroke="#c4caf2" stroke-width="7.8"/>
<polyline points="506.5,124.0 504.3,130.7 508.3,124.9 506.1,131.6 510.1,125.8 507.9,132.5 512.0,126.7 509.8,133.4 513.8,127.6 511.6,134.3 515.6,128.5 513.4,135.2 517.5,129.4 515.3,136.2 519.3,130.3 517.1,137.1 521.1,131.3 518.9,138.0 523.0,132.2" fill="none" stroke="#2232a8" stroke-width="1.2" stroke-linejoin="round" stroke-dasharray="1.6 0.7"/>
<line x1="502.0" y1="137.0" x2="512.0" y2="139.0" stroke="#c0c4e8" stroke-width="4.3"/>
<polyline points="502.3,135.3 502.7,138.9 504.3,135.7 504.7,139.3 506.3,136.1 506.7,139.7 508.3,136.5 508.7,140.1 510.3,136.9 510.7,140.5 512.3,137.3" fill="none" stroke="#18207a" stroke-width="1.2" stroke-linejoin="round" stroke-dasharray="1.6 0.7"/>
<text x="536.5" y="139.4" class="tk">318.15K</text>
<line x1="76.7" y1="16" x2="76.7" y2="401.5" stroke="#000" stroke-width="2.6"/>
<line x1="75.4" y1="400.2" x2="553.2" y2="400.2" stroke="#000" stroke-width="2.6"/>
<line x1="68" y1="17.5" x2="76.7" y2="17.5" stroke="#000" stroke-width="2.4"/>
<text x="63.8" y="21.8" class="tl" text-anchor="end">5.4</text>
<line x1="71.5" y1="41.5" x2="76.7" y2="41.5" stroke="#000" stroke-width="2.4"/>
<line x1="68" y1="65.5" x2="76.7" y2="65.5" stroke="#000" stroke-width="2.4"/>
<text x="63.8" y="69.8" class="tl" text-anchor="end">5.2</text>
<line x1="71.5" y1="89.5" x2="76.7" y2="89.5" stroke="#000" stroke-width="2.4"/>
<line x1="68" y1="113.5" x2="76.7" y2="113.5" stroke="#000" stroke-width="2.4"/>
<text x="63.8" y="117.8" class="tl" text-anchor="end">5.0</text>
<line x1="71.5" y1="137.4" x2="76.7" y2="137.4" stroke="#000" stroke-width="2.4"/>
<line x1="68" y1="161.4" x2="76.7" y2="161.4" stroke="#000" stroke-width="2.4"/>
<text x="63.8" y="165.7" class="tl" text-anchor="end">4.8</text>
<line x1="71.5" y1="185.4" x2="76.7" y2="185.4" stroke="#000" stroke-width="2.4"/>
<line x1="68" y1="209.4" x2="76.7" y2="209.4" stroke="#000" stroke-width="2.4"/>
<text x="63.8" y="213.7" class="tl" text-anchor="end">4.6</text>
<line x1="71.5" y1="233.4" x2="76.7" y2="233.4" stroke="#000" stroke-width="2.4"/>
<line x1="68" y1="257.4" x2="76.7" y2="257.4" stroke="#000" stroke-width="2.4"/>
<text x="63.8" y="261.7" class="tl" text-anchor="end">4.4</text>
<line x1="71.5" y1="281.4" x2="76.7" y2="281.4" stroke="#000" stroke-width="2.4"/>
<line x1="68" y1="305.4" x2="76.7" y2="305.4" stroke="#000" stroke-width="2.4"/>
<text x="63.8" y="309.7" class="tl" text-anchor="end">4.2</text>
<line x1="71.5" y1="329.4" x2="76.7" y2="329.4" stroke="#000" stroke-width="2.4"/>
<line x1="68" y1="353.4" x2="76.7" y2="353.4" stroke="#000" stroke-width="2.4"/>
<text x="63.8" y="357.7" class="tl" text-anchor="end">4.0</text>
<line x1="71.5" y1="377.4" x2="76.7" y2="377.4" stroke="#000" stroke-width="2.4"/>
<line x1="88.9" y1="400.2" x2="88.9" y2="408" stroke="#000" stroke-width="2.4"/>
<text x="88.9" y="425.8" class="tl" text-anchor="middle">-5</text>
<line x1="127.0" y1="400.2" x2="127.0" y2="408" stroke="#000" stroke-width="2.4"/>
<text x="127.0" y="425.8" class="tl" text-anchor="middle">0</text>
<line x1="165.1" y1="400.2" x2="165.1" y2="408" stroke="#000" stroke-width="2.4"/>
<text x="165.1" y="425.8" class="tl" text-anchor="middle">5</text>
<line x1="203.2" y1="400.2" x2="203.2" y2="408" stroke="#000" stroke-width="2.4"/>
<text x="203.2" y="425.8" class="tl" text-anchor="middle">10</text>
<line x1="241.3" y1="400.2" x2="241.3" y2="408" stroke="#000" stroke-width="2.4"/>
<text x="241.3" y="425.8" class="tl" text-anchor="middle">15</text>
<line x1="279.4" y1="400.2" x2="279.4" y2="408" stroke="#000" stroke-width="2.4"/>
<text x="279.4" y="425.8" class="tl" text-anchor="middle">20</text>
<line x1="108.0" y1="400.2" x2="108.0" y2="404.5" stroke="#000" stroke-width="2.4"/>
<line x1="146.1" y1="400.2" x2="146.1" y2="404.5" stroke="#000" stroke-width="2.4"/>
<line x1="184.2" y1="400.2" x2="184.2" y2="404.5" stroke="#000" stroke-width="2.4"/>
<line x1="222.2" y1="400.2" x2="222.2" y2="404.5" stroke="#000" stroke-width="2.4"/>
<line x1="260.4" y1="400.2" x2="260.4" y2="404.5" stroke="#000" stroke-width="2.4"/>
<line x1="298.4" y1="400.2" x2="298.4" y2="404.5" stroke="#000" stroke-width="2.4"/>
<line x1="318.0" y1="400.2" x2="318.0" y2="408" stroke="#000" stroke-width="2.4"/>
<text x="318.0" y="425.8" class="tl" text-anchor="middle">48</text>
<line x1="378.3" y1="400.2" x2="378.3" y2="408" stroke="#000" stroke-width="2.4"/>
<text x="378.3" y="425.8" class="tl" text-anchor="middle">49</text>
<line x1="437.2" y1="400.2" x2="437.2" y2="408" stroke="#000" stroke-width="2.4"/>
<text x="437.2" y="425.8" class="tl" text-anchor="middle">50</text>
<line x1="495.2" y1="400.2" x2="495.2" y2="408" stroke="#000" stroke-width="2.4"/>
<text x="495.2" y="425.8" class="tl" text-anchor="middle">51</text>
<line x1="552.0" y1="400.2" x2="552.0" y2="408" stroke="#000" stroke-width="2.4"/>
<text x="552.0" y="425.8" class="tl" text-anchor="middle">52</text>
<line x1="348.1" y1="400.2" x2="348.1" y2="404.5" stroke="#000" stroke-width="2.4"/>
<line x1="407.8" y1="400.2" x2="407.8" y2="404.5" stroke="#000" stroke-width="2.4"/>
<line x1="466.2" y1="400.2" x2="466.2" y2="404.5" stroke="#000" stroke-width="2.4"/>
<line x1="523.6" y1="400.2" x2="523.6" y2="404.5" stroke="#000" stroke-width="2.4"/>
<line x1="306" y1="408" x2="314.5" y2="392.5" stroke="#000" stroke-width="2.4" stroke-linecap="round"/>
<line x1="314.5" y1="408" x2="323" y2="392.5" stroke="#000" stroke-width="2.4" stroke-linecap="round"/>
<text x="203.5" y="448.6" class="at">BSA concentration <tspan class="ser">(μM)</tspan></text>
<text transform="translate(26.2,268.8) scale(1.1,1) rotate(-90)" class="at yt">CMC (mM)</text>
<line x1="127.00" y1="295.78" x2="165.10" y2="250.20" stroke="#706e10" stroke-width="3.3" stroke-dasharray="3.70 9.10" stroke-dashoffset="11.45" stroke-linecap="round"/>
<line x1="165.10" y1="250.20" x2="279.40" y2="228.61" stroke="#706e10" stroke-width="3.3" stroke-dasharray="3.30 7.90" stroke-dashoffset="9.85" stroke-linecap="round"/>
<line x1="279.40" y1="228.61" x2="308.40" y2="229.93" stroke="#706e10" stroke-width="3.3" stroke-dasharray="3.30 7.90" stroke-dashoffset="10.03" stroke-linecap="round"/>
<circle cx="317.7" cy="230.36" r="1.24" fill="#706e10" opacity="0.8"/>
<line x1="322.60" y1="230.58" x2="437.20" y2="235.81" stroke="#706e10" stroke-width="3.3" stroke-dasharray="3.30 7.90" stroke-dashoffset="9.25" stroke-linecap="round"/>
<line x1="127.00" y1="233.41" x2="165.10" y2="173.44" stroke="#6a1670" stroke-width="3.0" stroke-dasharray="4.00 8.80" stroke-dashoffset="11.60" stroke-linecap="round"/>
<line x1="165.10" y1="173.44" x2="279.40" y2="163.84" stroke="#6a1670" stroke-width="3.0" stroke-dasharray="3.60 7.60" stroke-dashoffset="10.00" stroke-linecap="round"/>
<line x1="279.40" y1="163.84" x2="308.40" y2="166.93" stroke="#6a1670" stroke-width="3.0" stroke-dasharray="3.60 7.60" stroke-dashoffset="10.08" stroke-linecap="round"/>
<circle cx="317.7" cy="167.91" r="1.12" fill="#6a1670" opacity="0.8"/>
<line x1="322.60" y1="168.44" x2="437.20" y2="180.63" stroke="#6a1670" stroke-width="3.0" stroke-dasharray="3.60 7.60" stroke-dashoffset="9.40" stroke-linecap="round"/>
<line x1="127.00" y1="166.24" x2="165.10" y2="89.47" stroke="#d41c72" stroke-width="3.0" stroke-dasharray="4.00 8.80" stroke-dashoffset="11.60" stroke-linecap="round"/>
<line x1="165.10" y1="89.47" x2="279.40" y2="123.06" stroke="#d41c72" stroke-width="3.0" stroke-dasharray="3.60 7.60" stroke-dashoffset="10.00" stroke-linecap="round"/>
<line x1="279.40" y1="123.06" x2="308.40" y2="130.99" stroke="#d41c72" stroke-width="3.0" stroke-dasharray="3.60 7.60" stroke-dashoffset="9.39" stroke-linecap="round"/>
<circle cx="317.7" cy="133.54" r="1.12" fill="#d41c72" opacity="0.8"/>
<line x1="322.60" y1="134.88" x2="437.20" y2="166.24" stroke="#d41c72" stroke-width="3.0" stroke-dasharray="3.60 7.60" stroke-dashoffset="9.39" stroke-linecap="round"/>
<circle cx="127.0" cy="295.8" r="7.6" fill="url(#gm)"/>
<circle cx="165.1" cy="250.2" r="7.6" fill="url(#gm)"/>
<circle cx="279.4" cy="228.6" r="7.6" fill="url(#gm)"/>
<circle cx="437.2" cy="235.8" r="7.6" fill="url(#gm)"/>
<circle cx="127.0" cy="233.4" r="7.6" fill="url(#gr)"/>
<circle cx="165.1" cy="173.4" r="7.6" fill="url(#gr)"/>
<circle cx="279.4" cy="163.8" r="7.6" fill="url(#gr)"/>
<circle cx="437.2" cy="180.6" r="7.6" fill="url(#gr)"/>
<circle cx="127.0" cy="166.2" r="7.6" fill="url(#gt)"/>
<circle cx="165.1" cy="89.5" r="7.6" fill="url(#gt)"/>
<circle cx="279.4" cy="123.1" r="7.6" fill="url(#gt)"/>
<circle cx="437.2" cy="166.2" r="7.6" fill="url(#gt)"/>
<line x1="307.4" y1="28.8" x2="346" y2="28.8" stroke="#706e10" stroke-width="2.9" stroke-dasharray="3.6 7.8" stroke-linecap="round"/>
<circle cx="328.4" cy="28.8" r="7.7" fill="url(#gm)"/>
<line x1="307.4" y1="51.1" x2="346" y2="51.1" stroke="#6a1670" stroke-width="2.9" stroke-dasharray="3.6 7.8" stroke-linecap="round"/>
<circle cx="328.4" cy="51.1" r="7.7" fill="url(#gr)"/>
<line x1="307.4" y1="73.4" x2="346" y2="73.4" stroke="#d41c72" stroke-width="2.9" stroke-dasharray="3.6 7.8" stroke-linecap="round"/>
<circle cx="328.4" cy="73.4" r="7.7" fill="url(#gt)"/>
<text x="354" y="35.3" class="lg">298.15 K</text>
<text x="354" y="57.6" class="lg">308.15 K</text>
<text x="354" y="79.9" class="lg">318.15 K</text>
<g fill="#ffffff" opacity="0.75">
<rect x="506" y="455.6" width="14" height="1.6"/><rect x="523" y="455.2" width="16" height="1.8"/>
<rect x="541" y="456" width="2" height="2" transform="rotate(-30 542 457)"/><rect x="546" y="456.4" width="9" height="1.4"/>
<rect x="561" y="455" width="1.6" height="4" transform="rotate(35 562 457)"/><rect x="566" y="456.2" width="8" height="1.5"/>
<rect x="577" y="455.6" width="12" height="1.6"/>
</g>
</svg>
</body></html>
